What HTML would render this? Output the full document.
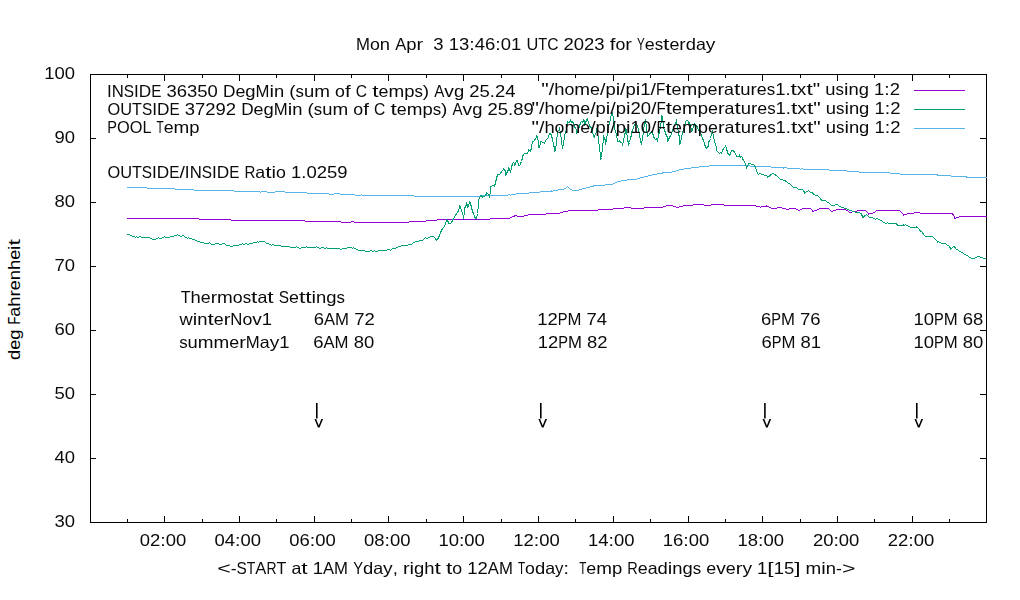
<!DOCTYPE html><html><head><meta charset="utf-8"><style>html,body{margin:0;padding:0;background:#fff;width:1020px;height:600px;overflow:hidden}svg{display:block}</style></head><body><svg width="1020" height="600" viewBox="0 0 1020 600"><defs><filter id="gs" x="-400" y="-400" width="1800" height="1400" filterUnits="userSpaceOnUse"><feColorMatrix type="saturate" values="0"/></filter></defs><rect x="0" y="0" width="1020" height="600" fill="#fff"/><rect x="90.5" y="74.5" width="896" height="448" fill="none" stroke="#000" stroke-width="1"/><rect x="90" y="522" width="6" height="1" fill="#000"/><rect x="980" y="522" width="6" height="1" fill="#000"/><rect x="90" y="458" width="6" height="1" fill="#000"/><rect x="980" y="458" width="6" height="1" fill="#000"/><rect x="90" y="394" width="6" height="1" fill="#000"/><rect x="980" y="394" width="6" height="1" fill="#000"/><rect x="90" y="330" width="6" height="1" fill="#000"/><rect x="980" y="330" width="6" height="1" fill="#000"/><rect x="90" y="266" width="6" height="1" fill="#000"/><rect x="980" y="266" width="6" height="1" fill="#000"/><rect x="90" y="202" width="6" height="1" fill="#000"/><rect x="980" y="202" width="6" height="1" fill="#000"/><rect x="90" y="138" width="6" height="1" fill="#000"/><rect x="980" y="138" width="6" height="1" fill="#000"/><rect x="90" y="74" width="6" height="1" fill="#000"/><rect x="980" y="74" width="6" height="1" fill="#000"/><rect x="127" y="519" width="1" height="3" fill="#000"/><rect x="127" y="75" width="1" height="3" fill="#000"/><rect x="164" y="516" width="1" height="6" fill="#000"/><rect x="164" y="75" width="1" height="6" fill="#000"/><rect x="202" y="519" width="1" height="3" fill="#000"/><rect x="202" y="75" width="1" height="3" fill="#000"/><rect x="239" y="516" width="1" height="6" fill="#000"/><rect x="239" y="75" width="1" height="6" fill="#000"/><rect x="276" y="519" width="1" height="3" fill="#000"/><rect x="276" y="75" width="1" height="3" fill="#000"/><rect x="314" y="516" width="1" height="6" fill="#000"/><rect x="314" y="75" width="1" height="6" fill="#000"/><rect x="351" y="519" width="1" height="3" fill="#000"/><rect x="351" y="75" width="1" height="3" fill="#000"/><rect x="388" y="516" width="1" height="6" fill="#000"/><rect x="388" y="75" width="1" height="6" fill="#000"/><rect x="426" y="519" width="1" height="3" fill="#000"/><rect x="426" y="75" width="1" height="3" fill="#000"/><rect x="463" y="516" width="1" height="6" fill="#000"/><rect x="463" y="75" width="1" height="6" fill="#000"/><rect x="501" y="519" width="1" height="3" fill="#000"/><rect x="501" y="75" width="1" height="3" fill="#000"/><rect x="538" y="516" width="1" height="6" fill="#000"/><rect x="538" y="75" width="1" height="6" fill="#000"/><rect x="575" y="519" width="1" height="3" fill="#000"/><rect x="575" y="75" width="1" height="3" fill="#000"/><rect x="613" y="516" width="1" height="6" fill="#000"/><rect x="613" y="75" width="1" height="6" fill="#000"/><rect x="650" y="519" width="1" height="3" fill="#000"/><rect x="650" y="75" width="1" height="3" fill="#000"/><rect x="688" y="516" width="1" height="6" fill="#000"/><rect x="688" y="75" width="1" height="6" fill="#000"/><rect x="725" y="519" width="1" height="3" fill="#000"/><rect x="725" y="75" width="1" height="3" fill="#000"/><rect x="762" y="516" width="1" height="6" fill="#000"/><rect x="762" y="75" width="1" height="6" fill="#000"/><rect x="800" y="519" width="1" height="3" fill="#000"/><rect x="800" y="75" width="1" height="3" fill="#000"/><rect x="837" y="516" width="1" height="6" fill="#000"/><rect x="837" y="75" width="1" height="6" fill="#000"/><rect x="874" y="519" width="1" height="3" fill="#000"/><rect x="874" y="75" width="1" height="3" fill="#000"/><rect x="912" y="516" width="1" height="6" fill="#000"/><rect x="912" y="75" width="1" height="6" fill="#000"/><rect x="949" y="519" width="1" height="3" fill="#000"/><rect x="949" y="75" width="1" height="3" fill="#000"/><rect x="914" y="90" width="51" height="1" fill="#9400d3"/><rect x="914" y="109" width="51" height="1" fill="#009e73"/><rect x="914" y="128" width="51" height="1" fill="#56b4e9"/><rect x="316.00" y="403" width="1.6" height="15.5" fill="#000"/><polygon points="314.45,419 316.15,419 318.75,425.4 321.35,419 323.05,419 319.55,427.6 317.95,427.6" fill="#000"/><rect x="540.00" y="403" width="1.6" height="15.5" fill="#000"/><polygon points="538.40,419 540.10,419 542.70,425.4 545.30,419 547.00,419 543.50,427.6 541.90,427.6" fill="#000"/><rect x="764.10" y="403" width="1.6" height="15.5" fill="#000"/><polygon points="762.55,419 764.25,419 766.85,425.4 769.45,419 771.15,419 767.65,427.6 766.05,427.6" fill="#000"/><rect x="916.00" y="403" width="1.6" height="15.5" fill="#000"/><polygon points="914.45,419 916.15,419 918.75,425.4 921.35,419 923.05,419 919.55,427.6 917.95,427.6" fill="#000"/><polyline points="126.5,187.5 127.5,187.5 128.5,187.5 129.5,187.5 130.5,187.5 131.5,187.5 132.5,187.5 133.5,187.5 134.5,187.5 135.5,187.5 136.5,187.5 137.5,187.5 138.5,187.5 139.5,187.5 140.5,187.5 141.5,187.5 142.5,187.5 143.5,187.5 144.5,187.5 145.5,187.5 146.5,187.5 147.5,188.5 148.5,188.5 149.5,188.5 150.5,188.5 151.5,188.5 152.5,188.5 153.5,188.5 154.5,188.5 155.5,188.5 156.5,188.5 157.5,188.5 158.5,188.5 159.5,188.5 160.5,188.5 161.5,188.5 162.5,188.5 163.5,188.5 164.5,188.5 165.5,188.5 166.5,188.5 167.5,188.5 168.5,188.5 169.5,188.5 170.5,188.5 171.5,188.5 172.5,188.5 173.5,188.5 174.5,188.5 175.5,189.5 176.5,189.5 177.5,189.5 178.5,189.5 179.5,189.5 180.5,189.5 181.5,189.5 182.5,189.5 183.5,189.5 184.5,189.5 185.5,189.5 186.5,189.5 187.5,189.5 188.5,189.5 189.5,189.5 190.5,189.5 191.5,189.5 192.5,189.5 193.5,189.5 194.5,190.5 195.5,190.5 196.5,190.5 197.5,190.5 198.5,190.5 199.5,190.5 200.5,190.5 201.5,190.5 202.5,190.5 203.5,190.5 204.5,190.5 205.5,190.5 206.5,190.5 207.5,190.5 208.5,190.5 209.5,190.5 210.5,190.5 211.5,190.5 212.5,190.5 213.5,190.5 214.5,190.5 215.5,190.5 216.5,190.5 217.5,190.5 218.5,190.5 219.5,190.5 220.5,190.5 221.5,190.5 222.5,190.5 223.5,190.5 224.5,190.5 225.5,190.5 226.5,190.5 227.5,190.5 228.5,190.5 229.5,190.5 230.5,190.5 231.5,190.5 232.5,190.5 233.5,190.5 234.5,191.5 235.5,191.5 236.5,191.5 237.5,191.5 238.5,191.5 239.5,191.5 240.5,191.5 241.5,191.5 242.5,191.5 243.5,191.5 244.5,191.5 245.5,191.5 246.5,191.5 247.5,191.5 248.5,191.5 249.5,191.5 250.5,191.5 251.5,191.5 252.5,191.5 253.5,191.5 254.5,191.5 255.5,191.5 256.5,191.5 257.5,191.5 258.5,191.5 259.5,191.5 260.5,192.5 261.5,191.5 262.5,191.5 263.5,191.5 264.5,191.5 265.5,191.5 266.5,191.5 267.5,192.5 268.5,192.5 269.5,192.5 270.5,192.5 271.5,192.5 272.5,192.5 273.5,192.5 274.5,192.5 275.5,191.5 276.5,191.5 277.5,191.5 278.5,191.5 279.5,191.5 280.5,191.5 281.5,191.5 282.5,191.5 283.5,191.5 284.5,191.5 285.5,192.5 286.5,192.5 287.5,192.5 288.5,192.5 289.5,192.5 290.5,192.5 291.5,192.5 292.5,192.5 293.5,192.5 294.5,192.5 295.5,192.5 296.5,192.5 297.5,192.5 298.5,192.5 299.5,192.5 300.5,192.5 301.5,192.5 302.5,192.5 303.5,192.5 304.5,192.5 305.5,192.5 306.5,192.5 307.5,193.5 308.5,193.5 309.5,193.5 310.5,193.5 311.5,193.5 312.5,193.5 313.5,193.5 314.5,193.5 315.5,193.5 316.5,193.5 317.5,193.5 318.5,193.5 319.5,193.5 320.5,193.5 321.5,193.5 322.5,193.5 323.5,193.5 324.5,193.5 325.5,193.5 326.5,193.5 327.5,193.5 328.5,193.5 329.5,194.5 330.5,194.5 331.5,194.5 332.5,194.5 333.5,194.5 334.5,193.5 335.5,193.5 336.5,193.5 337.5,193.5 338.5,193.5 339.5,193.5 340.5,194.5 341.5,194.5 342.5,194.5 343.5,194.5 344.5,194.5 345.5,194.5 346.5,194.5 347.5,194.5 348.5,194.5 349.5,194.5 350.5,194.5 351.5,194.5 352.5,194.5 353.5,194.5 354.5,194.5 355.5,195.5 356.5,195.5 357.5,195.5 358.5,195.5 359.5,195.5 360.5,195.5 361.5,194.5 362.5,195.5 363.5,195.5 364.5,195.5 365.5,195.5 366.5,195.5 367.5,195.5 368.5,195.5 369.5,195.5 370.5,195.5 371.5,195.5 372.5,195.5 373.5,195.5 374.5,195.5 375.5,195.5 376.5,195.5 377.5,195.5 378.5,195.5 379.5,195.5 380.5,195.5 381.5,195.5 382.5,195.5 383.5,195.5 384.5,195.5 385.5,195.5 386.5,195.5 387.5,195.5 388.5,195.5 389.5,195.5 390.5,195.5 391.5,195.5 392.5,195.5 393.5,195.5 394.5,195.5 395.5,195.5 396.5,195.5 397.5,195.5 398.5,195.5 399.5,195.5 400.5,195.5 401.5,195.5 402.5,195.5 403.5,195.5 404.5,195.5 405.5,195.5 406.5,195.5 407.5,195.5 408.5,195.5 409.5,195.5 410.5,195.5 411.5,195.5 412.5,195.5 413.5,195.5 414.5,196.5 415.5,196.5 416.5,196.5 417.5,196.5 418.5,196.5 419.5,196.5 420.5,196.5 421.5,196.5 422.5,196.5 423.5,196.5 424.5,196.5 425.5,196.5 426.5,196.5 427.5,196.5 428.5,196.5 429.5,196.5 430.5,196.5 431.5,196.5 432.5,196.5 433.5,196.5 434.5,196.5 435.5,196.5 436.5,196.5 437.5,196.5 438.5,196.5 439.5,196.5 440.5,196.5 441.5,196.5 442.5,196.5 443.5,196.5 444.5,196.5 445.5,196.5 446.5,196.5 447.5,196.5 448.5,196.5 449.5,196.5 450.5,196.5 451.5,196.5 452.5,196.5 453.5,196.5 454.5,196.5 455.5,196.5 456.5,196.5 457.5,196.5 458.5,196.5 459.5,196.5 460.5,196.5 461.5,196.5 462.5,196.5 463.5,196.5 464.5,196.5 465.5,196.5 466.5,196.5 467.5,196.5 468.5,196.5 469.5,196.5 470.5,196.5 471.5,196.5 472.5,196.5 473.5,196.5 474.5,196.5 475.5,196.5 476.5,196.5 477.5,196.5 478.5,196.5 479.5,196.5 480.5,196.5 481.5,196.5 482.5,195.5 483.5,195.5 484.5,195.5 485.5,195.5 486.5,195.5 487.5,195.5 488.5,195.5 489.5,195.5 490.5,195.5 491.5,195.5 492.5,195.5 493.5,195.5 494.5,195.5 495.5,195.5 496.5,195.5 497.5,195.5 498.5,195.5 499.5,195.5 500.5,195.5 501.5,195.5 502.5,195.5 503.5,195.5 504.5,195.5 505.5,195.5 506.5,195.5 507.5,195.5 508.5,194.5 509.5,194.5 510.5,195.5 511.5,194.5 512.5,194.5 513.5,194.5 514.5,194.5 515.5,194.5 516.5,193.5 517.5,193.5 518.5,193.5 519.5,193.5 520.5,193.5 521.5,193.5 522.5,193.5 523.5,193.5 524.5,193.5 525.5,193.5 526.5,193.5 527.5,193.5 528.5,193.5 529.5,192.5 530.5,192.5 531.5,192.5 532.5,192.5 533.5,192.5 534.5,192.5 535.5,192.5 536.5,192.5 537.5,192.5 538.5,192.5 539.5,192.5 540.5,191.5 541.5,191.5 542.5,191.5 543.5,191.5 544.5,191.5 545.5,191.5 546.5,191.5 547.5,191.5 548.5,191.5 549.5,191.5 550.5,191.5 551.5,191.5 551.5,190.5 552.5,191.5 553.5,190.5 554.5,190.5 555.5,190.5 556.5,190.5 557.5,190.5 558.5,189.5 559.5,189.5 560.5,189.5 561.5,189.5 562.5,189.5 563.5,189.5 564.5,188.5 565.5,188.5 566.5,187.5 567.5,186.5 568.5,187.5 569.5,188.5 570.5,189.5 571.5,189.5 572.5,190.5 573.5,190.5 574.5,190.5 575.5,190.5 576.5,190.5 577.5,190.5 578.5,190.5 579.5,189.5 580.5,189.5 581.5,189.5 582.5,188.5 583.5,188.5 584.5,188.5 585.5,188.5 586.5,187.5 587.5,187.5 588.5,187.5 589.5,187.5 590.5,186.5 591.5,186.5 592.5,186.5 593.5,186.5 593.5,185.5 594.5,185.5 595.5,185.5 596.5,185.5 597.5,185.5 598.5,185.5 599.5,185.5 600.5,185.5 601.5,185.5 602.5,185.5 603.5,185.5 604.5,185.5 605.5,184.5 606.5,184.5 607.5,184.5 608.5,184.5 609.5,184.5 610.5,184.5 611.5,184.5 612.5,184.5 613.5,183.5 614.5,183.5 615.5,182.5 616.5,182.5 617.5,181.5 618.5,181.5 619.5,181.5 620.5,181.5 621.5,180.5 622.5,180.5 623.5,180.5 624.5,180.5 625.5,180.5 626.5,180.5 627.5,179.5 628.5,179.5 629.5,179.5 630.5,179.5 631.5,179.5 632.5,179.5 633.5,179.5 634.5,179.5 635.5,179.5 636.5,179.5 637.5,178.5 638.5,178.5 639.5,178.5 640.5,177.5 641.5,177.5 642.5,177.5 643.5,177.5 644.5,176.5 645.5,176.5 646.5,176.5 647.5,176.5 648.5,175.5 649.5,175.5 650.5,175.5 651.5,175.5 652.5,174.5 653.5,174.5 654.5,174.5 655.5,174.5 656.5,174.5 657.5,173.5 658.5,173.5 659.5,173.5 660.5,173.5 661.5,173.5 662.5,172.5 662.5,173.5 663.5,172.5 664.5,172.5 665.5,172.5 666.5,172.5 667.5,172.5 668.5,172.5 669.5,172.5 670.5,172.5 671.5,172.5 672.5,171.5 673.5,171.5 674.5,171.5 675.5,171.5 676.5,170.5 677.5,170.5 678.5,170.5 679.5,169.5 680.5,169.5 681.5,169.5 682.5,169.5 683.5,169.5 684.5,168.5 685.5,168.5 686.5,168.5 687.5,168.5 688.5,168.5 689.5,168.5 690.5,168.5 691.5,167.5 692.5,167.5 693.5,167.5 694.5,167.5 695.5,167.5 696.5,167.5 697.5,167.5 698.5,167.5 699.5,166.5 700.5,166.5 701.5,166.5 702.5,166.5 703.5,166.5 704.5,166.5 705.5,166.5 706.5,166.5 707.5,166.5 708.5,166.5 709.5,165.5 710.5,165.5 711.5,165.5 712.5,165.5 713.5,165.5 714.5,165.5 715.5,165.5 716.5,165.5 717.5,165.5 718.5,165.5 719.5,165.5 720.5,165.5 721.5,165.5 722.5,165.5 723.5,165.5 724.5,165.5 725.5,165.5 726.5,165.5 727.5,165.5 728.5,165.5 729.5,165.5 730.5,165.5 731.5,165.5 732.5,165.5 733.5,165.5 734.5,165.5 735.5,165.5 736.5,165.5 737.5,165.5 738.5,165.5 739.5,165.5 740.5,165.5 741.5,165.5 742.5,165.5 743.5,165.5 744.5,165.5 745.5,165.5 746.5,165.5 747.5,165.5 748.5,165.5 749.5,165.5 750.5,166.5 751.5,166.5 752.5,166.5 753.5,166.5 754.5,166.5 755.5,166.5 756.5,166.5 757.5,166.5 758.5,166.5 759.5,166.5 760.5,166.5 761.5,166.5 762.5,166.5 763.5,166.5 764.5,166.5 765.5,166.5 766.5,166.5 767.5,166.5 768.5,166.5 769.5,166.5 770.5,166.5 771.5,167.5 772.5,167.5 773.5,167.5 774.5,167.5 775.5,167.5 776.5,167.5 777.5,167.5 778.5,167.5 779.5,167.5 780.5,167.5 781.5,167.5 782.5,167.5 783.5,167.5 783.5,168.5 784.5,167.5 785.5,167.5 786.5,167.5 787.5,168.5 788.5,168.5 789.5,168.5 790.5,168.5 791.5,168.5 792.5,168.5 793.5,168.5 794.5,168.5 795.5,168.5 796.5,168.5 797.5,168.5 798.5,168.5 799.5,168.5 800.5,169.5 801.5,168.5 802.5,168.5 803.5,169.5 804.5,169.5 805.5,169.5 806.5,169.5 807.5,169.5 808.5,169.5 809.5,169.5 810.5,169.5 811.5,169.5 812.5,169.5 813.5,169.5 814.5,169.5 815.5,169.5 816.5,169.5 817.5,169.5 818.5,169.5 819.5,169.5 820.5,169.5 821.5,169.5 822.5,169.5 823.5,169.5 824.5,169.5 825.5,169.5 826.5,169.5 827.5,169.5 828.5,169.5 829.5,170.5 830.5,170.5 831.5,170.5 832.5,170.5 833.5,170.5 834.5,170.5 835.5,170.5 836.5,170.5 837.5,170.5 838.5,170.5 839.5,170.5 840.5,170.5 841.5,170.5 842.5,170.5 843.5,170.5 844.5,170.5 845.5,170.5 846.5,170.5 847.5,171.5 848.5,171.5 849.5,171.5 850.5,171.5 851.5,171.5 852.5,171.5 853.5,171.5 854.5,171.5 855.5,171.5 856.5,171.5 857.5,171.5 858.5,171.5 859.5,172.5 860.5,172.5 861.5,172.5 862.5,172.5 863.5,172.5 864.5,172.5 865.5,172.5 866.5,172.5 867.5,172.5 868.5,172.5 869.5,172.5 870.5,172.5 871.5,172.5 872.5,172.5 873.5,172.5 874.5,172.5 875.5,172.5 876.5,172.5 877.5,172.5 878.5,172.5 879.5,172.5 880.5,172.5 881.5,172.5 882.5,172.5 883.5,172.5 884.5,172.5 885.5,172.5 886.5,172.5 887.5,172.5 888.5,172.5 889.5,172.5 890.5,173.5 891.5,173.5 892.5,173.5 893.5,173.5 894.5,173.5 895.5,173.5 896.5,173.5 897.5,173.5 898.5,173.5 899.5,173.5 900.5,174.5 901.5,174.5 902.5,174.5 903.5,174.5 904.5,174.5 905.5,174.5 906.5,174.5 907.5,174.5 908.5,174.5 909.5,174.5 910.5,174.5 911.5,174.5 912.5,174.5 913.5,174.5 914.5,174.5 915.5,174.5 916.5,174.5 917.5,174.5 918.5,174.5 919.5,174.5 920.5,174.5 921.5,174.5 922.5,174.5 923.5,174.5 924.5,174.5 925.5,174.5 926.5,174.5 927.5,174.5 928.5,174.5 929.5,174.5 930.5,174.5 931.5,174.5 932.5,174.5 933.5,174.5 934.5,174.5 935.5,174.5 936.5,174.5 937.5,174.5 937.5,175.5 938.5,175.5 939.5,175.5 940.5,175.5 941.5,175.5 942.5,175.5 943.5,175.5 944.5,175.5 945.5,175.5 946.5,175.5 947.5,175.5 948.5,175.5 949.5,175.5 950.5,175.5 951.5,176.5 952.5,176.5 953.5,176.5 954.5,176.5 955.5,176.5 956.5,176.5 957.5,176.5 958.5,176.5 959.5,176.5 960.5,176.5 961.5,176.5 962.5,176.5 963.5,176.5 964.5,176.5 965.5,176.5 966.5,176.5 966.5,177.5 967.5,177.5 968.5,177.5 969.5,177.5 970.5,177.5 971.5,177.5 972.5,177.5 973.5,177.5 974.5,177.5 975.5,177.5 976.5,177.5 977.5,177.5 978.5,177.5 979.5,177.5 980.5,177.5 981.5,177.5 982.5,177.5 983.5,177.5 984.5,177.5 985.5,177.5 986.5,177.5" fill="none" stroke="#56b4e9" stroke-width="1" stroke-linejoin="miter" shape-rendering="crispEdges"/><polyline points="126.5,218.5 127.5,218.5 128.5,218.5 129.5,218.5 130.5,218.5 131.5,218.5 132.5,218.5 133.5,218.5 134.5,218.5 135.5,218.5 136.5,218.5 137.5,218.5 138.5,218.5 139.5,218.5 140.5,218.5 141.5,218.5 142.5,218.5 143.5,218.5 144.5,218.5 145.5,218.5 146.5,218.5 147.5,218.5 148.5,218.5 149.5,218.5 150.5,218.5 151.5,218.5 152.5,218.5 153.5,218.5 154.5,218.5 155.5,218.5 156.5,218.5 157.5,218.5 158.5,218.5 159.5,218.5 160.5,218.5 161.5,218.5 162.5,218.5 163.5,218.5 164.5,218.5 165.5,218.5 166.5,218.5 167.5,218.5 168.5,218.5 169.5,218.5 170.5,218.5 171.5,218.5 172.5,218.5 173.5,218.5 174.5,218.5 175.5,218.5 176.5,218.5 177.5,218.5 178.5,218.5 179.5,218.5 180.5,218.5 181.5,218.5 182.5,218.5 183.5,218.5 184.5,218.5 185.5,218.5 186.5,218.5 187.5,218.5 188.5,218.5 189.5,218.5 190.5,218.5 191.5,218.5 192.5,218.5 193.5,218.5 194.5,218.5 195.5,218.5 196.5,218.5 197.5,218.5 198.5,218.5 199.5,219.5 200.5,219.5 201.5,219.5 202.5,219.5 203.5,219.5 204.5,219.5 205.5,219.5 206.5,219.5 207.5,219.5 208.5,219.5 209.5,219.5 210.5,219.5 211.5,219.5 212.5,219.5 213.5,219.5 214.5,219.5 215.5,219.5 216.5,219.5 217.5,219.5 218.5,219.5 219.5,219.5 220.5,219.5 221.5,219.5 222.5,219.5 223.5,219.5 224.5,219.5 225.5,219.5 226.5,219.5 227.5,219.5 228.5,219.5 229.5,219.5 230.5,219.5 231.5,220.5 232.5,220.5 233.5,220.5 234.5,220.5 235.5,220.5 236.5,220.5 237.5,220.5 238.5,220.5 239.5,220.5 240.5,220.5 241.5,220.5 242.5,220.5 243.5,220.5 244.5,220.5 245.5,220.5 246.5,220.5 247.5,220.5 248.5,220.5 249.5,220.5 250.5,220.5 251.5,220.5 252.5,220.5 253.5,220.5 254.5,220.5 255.5,220.5 256.5,220.5 257.5,220.5 258.5,220.5 259.5,220.5 260.5,220.5 261.5,220.5 262.5,220.5 263.5,220.5 264.5,220.5 265.5,220.5 266.5,220.5 267.5,220.5 268.5,220.5 269.5,220.5 270.5,220.5 271.5,220.5 272.5,220.5 273.5,220.5 274.5,220.5 275.5,220.5 276.5,220.5 277.5,220.5 278.5,220.5 279.5,220.5 280.5,220.5 281.5,220.5 282.5,220.5 283.5,220.5 284.5,220.5 285.5,220.5 286.5,220.5 287.5,220.5 288.5,220.5 289.5,220.5 290.5,220.5 291.5,220.5 292.5,220.5 293.5,220.5 294.5,220.5 295.5,220.5 296.5,220.5 297.5,220.5 298.5,220.5 299.5,220.5 300.5,220.5 301.5,220.5 302.5,220.5 303.5,220.5 304.5,220.5 305.5,221.5 306.5,221.5 307.5,221.5 308.5,221.5 309.5,221.5 310.5,221.5 311.5,221.5 312.5,221.5 313.5,221.5 314.5,221.5 315.5,221.5 316.5,221.5 317.5,221.5 318.5,221.5 319.5,221.5 320.5,221.5 321.5,221.5 322.5,221.5 323.5,221.5 324.5,221.5 325.5,221.5 326.5,221.5 327.5,221.5 328.5,221.5 329.5,221.5 330.5,221.5 331.5,221.5 332.5,221.5 333.5,221.5 334.5,221.5 335.5,221.5 336.5,221.5 337.5,221.5 338.5,221.5 339.5,221.5 340.5,221.5 341.5,222.5 342.5,222.5 343.5,222.5 344.5,222.5 345.5,222.5 346.5,222.5 347.5,222.5 348.5,222.5 349.5,222.5 350.5,222.5 351.5,221.5 352.5,221.5 353.5,221.5 354.5,222.5 355.5,222.5 356.5,222.5 357.5,222.5 358.5,222.5 359.5,222.5 360.5,222.5 361.5,222.5 362.5,222.5 363.5,222.5 364.5,222.5 365.5,222.5 366.5,222.5 367.5,222.5 368.5,222.5 369.5,222.5 370.5,222.5 371.5,222.5 372.5,222.5 373.5,222.5 374.5,222.5 375.5,222.5 376.5,222.5 377.5,222.5 378.5,222.5 379.5,222.5 380.5,222.5 381.5,222.5 382.5,222.5 383.5,222.5 384.5,222.5 385.5,222.5 386.5,222.5 387.5,222.5 388.5,222.5 389.5,222.5 390.5,222.5 391.5,222.5 392.5,222.5 393.5,222.5 394.5,222.5 395.5,222.5 396.5,222.5 397.5,222.5 398.5,222.5 399.5,222.5 400.5,222.5 401.5,222.5 402.5,222.5 403.5,222.5 404.5,222.5 405.5,222.5 406.5,222.5 407.5,222.5 408.5,222.5 409.5,221.5 410.5,221.5 411.5,221.5 412.5,221.5 413.5,221.5 414.5,221.5 415.5,221.5 416.5,221.5 417.5,221.5 418.5,221.5 419.5,221.5 420.5,221.5 421.5,221.5 422.5,221.5 423.5,221.5 424.5,221.5 425.5,221.5 426.5,220.5 427.5,220.5 428.5,220.5 429.5,220.5 430.5,220.5 431.5,220.5 432.5,220.5 433.5,220.5 434.5,220.5 435.5,220.5 436.5,220.5 437.5,219.5 438.5,219.5 439.5,219.5 440.5,219.5 441.5,219.5 442.5,219.5 443.5,219.5 444.5,219.5 445.5,219.5 446.5,219.5 447.5,219.5 448.5,219.5 449.5,219.5 450.5,219.5 451.5,219.5 452.5,219.5 453.5,219.5 454.5,219.5 455.5,219.5 456.5,219.5 457.5,219.5 458.5,219.5 459.5,219.5 460.5,219.5 461.5,219.5 462.5,219.5 463.5,219.5 464.5,219.5 465.5,219.5 466.5,219.5 467.5,219.5 468.5,219.5 469.5,219.5 470.5,219.5 471.5,219.5 472.5,219.5 473.5,219.5 474.5,219.5 475.5,219.5 476.5,219.5 477.5,219.5 478.5,219.5 479.5,219.5 480.5,219.5 481.5,219.5 482.5,219.5 483.5,219.5 484.5,219.5 485.5,219.5 486.5,219.5 487.5,219.5 488.5,219.5 489.5,219.5 490.5,218.5 491.5,218.5 492.5,218.5 493.5,218.5 494.5,218.5 495.5,218.5 496.5,218.5 497.5,218.5 498.5,218.5 499.5,218.5 500.5,218.5 501.5,218.5 502.5,218.5 503.5,218.5 504.5,218.5 505.5,218.5 506.5,218.5 507.5,218.5 508.5,218.5 509.5,218.5 510.5,217.5 511.5,217.5 512.5,216.5 513.5,216.5 514.5,216.5 514.5,215.5 515.5,215.5 516.5,215.5 517.5,216.5 518.5,216.5 519.5,216.5 520.5,216.5 521.5,216.5 522.5,216.5 523.5,216.5 524.5,215.5 525.5,215.5 526.5,215.5 527.5,215.5 528.5,214.5 529.5,214.5 530.5,214.5 531.5,214.5 532.5,214.5 533.5,214.5 534.5,214.5 535.5,214.5 536.5,214.5 537.5,214.5 538.5,214.5 539.5,214.5 540.5,214.5 541.5,214.5 542.5,214.5 543.5,214.5 544.5,214.5 545.5,214.5 546.5,213.5 547.5,213.5 548.5,213.5 549.5,213.5 550.5,213.5 551.5,213.5 552.5,213.5 553.5,213.5 554.5,213.5 555.5,213.5 556.5,213.5 557.5,213.5 558.5,213.5 559.5,213.5 560.5,212.5 561.5,212.5 562.5,212.5 563.5,211.5 564.5,211.5 565.5,211.5 566.5,211.5 567.5,211.5 568.5,210.5 569.5,210.5 570.5,210.5 571.5,210.5 572.5,210.5 573.5,210.5 574.5,210.5 575.5,210.5 576.5,210.5 577.5,210.5 578.5,210.5 579.5,210.5 580.5,210.5 581.5,210.5 582.5,210.5 583.5,210.5 584.5,210.5 585.5,210.5 586.5,210.5 587.5,210.5 588.5,210.5 589.5,210.5 590.5,210.5 591.5,210.5 592.5,210.5 593.5,210.5 594.5,210.5 595.5,210.5 596.5,210.5 597.5,210.5 598.5,209.5 599.5,209.5 600.5,209.5 601.5,209.5 602.5,209.5 603.5,209.5 604.5,209.5 605.5,209.5 606.5,209.5 607.5,209.5 608.5,209.5 609.5,209.5 610.5,209.5 611.5,209.5 612.5,209.5 613.5,208.5 614.5,208.5 615.5,208.5 616.5,208.5 617.5,208.5 618.5,208.5 619.5,208.5 620.5,208.5 621.5,208.5 622.5,208.5 623.5,208.5 624.5,207.5 625.5,207.5 626.5,207.5 627.5,207.5 628.5,207.5 629.5,207.5 630.5,207.5 631.5,208.5 632.5,208.5 633.5,208.5 634.5,208.5 635.5,208.5 636.5,208.5 637.5,208.5 638.5,208.5 639.5,208.5 640.5,208.5 641.5,208.5 642.5,208.5 643.5,208.5 644.5,207.5 645.5,207.5 646.5,207.5 647.5,207.5 648.5,207.5 649.5,207.5 650.5,207.5 651.5,207.5 652.5,207.5 653.5,207.5 654.5,207.5 655.5,207.5 656.5,207.5 657.5,207.5 658.5,207.5 659.5,207.5 660.5,207.5 661.5,207.5 662.5,207.5 663.5,206.5 664.5,206.5 665.5,206.5 666.5,205.5 667.5,205.5 668.5,205.5 669.5,205.5 670.5,205.5 671.5,205.5 672.5,205.5 673.5,206.5 674.5,206.5 675.5,206.5 676.5,207.5 677.5,207.5 678.5,207.5 679.5,206.5 680.5,206.5 681.5,206.5 682.5,206.5 683.5,205.5 684.5,205.5 685.5,205.5 686.5,205.5 687.5,205.5 688.5,205.5 689.5,205.5 690.5,205.5 691.5,205.5 692.5,205.5 693.5,204.5 694.5,204.5 695.5,204.5 696.5,204.5 697.5,204.5 698.5,204.5 699.5,204.5 700.5,204.5 701.5,204.5 702.5,204.5 703.5,204.5 704.5,205.5 705.5,205.5 706.5,205.5 707.5,205.5 708.5,205.5 709.5,205.5 710.5,205.5 711.5,204.5 712.5,204.5 713.5,204.5 714.5,204.5 715.5,204.5 716.5,204.5 717.5,204.5 718.5,204.5 719.5,204.5 720.5,204.5 721.5,204.5 722.5,204.5 723.5,204.5 724.5,205.5 725.5,205.5 726.5,205.5 727.5,205.5 728.5,205.5 729.5,205.5 730.5,205.5 731.5,205.5 732.5,205.5 733.5,205.5 734.5,205.5 735.5,205.5 736.5,205.5 737.5,205.5 738.5,205.5 739.5,205.5 740.5,205.5 741.5,205.5 742.5,205.5 743.5,205.5 744.5,205.5 745.5,205.5 746.5,205.5 747.5,205.5 748.5,205.5 749.5,205.5 750.5,205.5 751.5,205.5 752.5,205.5 753.5,205.5 754.5,205.5 755.5,205.5 756.5,206.5 757.5,206.5 758.5,206.5 759.5,206.5 760.5,207.5 761.5,206.5 762.5,206.5 763.5,206.5 764.5,206.5 765.5,206.5 766.5,206.5 766.5,205.5 767.5,206.5 768.5,206.5 769.5,207.5 770.5,207.5 771.5,208.5 772.5,208.5 773.5,208.5 774.5,208.5 775.5,208.5 776.5,208.5 777.5,207.5 778.5,207.5 779.5,207.5 780.5,207.5 781.5,207.5 782.5,208.5 783.5,208.5 784.5,208.5 785.5,208.5 786.5,209.5 787.5,209.5 788.5,209.5 789.5,208.5 790.5,208.5 791.5,208.5 792.5,208.5 793.5,208.5 794.5,208.5 795.5,208.5 796.5,209.5 797.5,209.5 798.5,210.5 799.5,210.5 800.5,209.5 801.5,209.5 802.5,208.5 803.5,208.5 804.5,208.5 805.5,208.5 806.5,208.5 807.5,208.5 808.5,208.5 809.5,208.5 810.5,208.5 811.5,209.5 812.5,210.5 812.5,211.5 813.5,211.5 814.5,210.5 815.5,210.5 816.5,210.5 817.5,209.5 818.5,209.5 819.5,208.5 820.5,208.5 821.5,208.5 822.5,208.5 823.5,208.5 824.5,208.5 825.5,208.5 826.5,208.5 827.5,208.5 828.5,208.5 829.5,209.5 830.5,210.5 831.5,211.5 832.5,211.5 833.5,210.5 834.5,210.5 835.5,210.5 836.5,209.5 837.5,209.5 838.5,209.5 839.5,209.5 840.5,209.5 841.5,209.5 842.5,209.5 843.5,209.5 844.5,209.5 845.5,209.5 846.5,210.5 847.5,210.5 848.5,211.5 849.5,212.5 850.5,212.5 851.5,212.5 852.5,211.5 853.5,211.5 854.5,211.5 855.5,211.5 856.5,211.5 857.5,210.5 858.5,210.5 859.5,210.5 860.5,210.5 861.5,210.5 862.5,210.5 863.5,210.5 864.5,210.5 865.5,210.5 866.5,211.5 867.5,212.5 868.5,213.5 868.5,214.5 869.5,213.5 870.5,213.5 871.5,213.5 872.5,213.5 873.5,212.5 874.5,212.5 875.5,211.5 876.5,210.5 877.5,210.5 878.5,210.5 879.5,210.5 880.5,210.5 881.5,210.5 882.5,210.5 883.5,210.5 884.5,210.5 885.5,210.5 886.5,210.5 887.5,210.5 888.5,210.5 889.5,210.5 890.5,210.5 891.5,210.5 892.5,210.5 893.5,210.5 894.5,210.5 895.5,210.5 896.5,210.5 897.5,210.5 898.5,210.5 899.5,210.5 900.5,211.5 901.5,212.5 902.5,213.5 903.5,214.5 903.5,215.5 904.5,214.5 905.5,214.5 906.5,214.5 907.5,213.5 908.5,213.5 909.5,213.5 910.5,213.5 911.5,213.5 912.5,213.5 913.5,213.5 914.5,212.5 915.5,212.5 916.5,212.5 917.5,212.5 918.5,212.5 919.5,212.5 920.5,213.5 921.5,213.5 922.5,213.5 923.5,213.5 924.5,213.5 925.5,213.5 926.5,213.5 927.5,213.5 928.5,213.5 929.5,213.5 930.5,213.5 931.5,213.5 932.5,213.5 933.5,213.5 934.5,213.5 935.5,213.5 936.5,213.5 937.5,213.5 938.5,213.5 939.5,213.5 940.5,213.5 941.5,213.5 942.5,213.5 943.5,213.5 944.5,213.5 945.5,213.5 946.5,213.5 947.5,213.5 948.5,213.5 949.5,213.5 950.5,213.5 951.5,213.5 952.5,213.5 953.5,215.5 954.5,216.5 954.5,218.5 955.5,218.5 956.5,217.5 957.5,217.5 958.5,217.5 959.5,216.5 960.5,216.5 961.5,216.5 962.5,216.5 963.5,216.5 964.5,216.5 965.5,216.5 966.5,216.5 967.5,216.5 968.5,216.5 969.5,216.5 970.5,216.5 971.5,216.5 972.5,216.5 973.5,216.5 974.5,216.5 975.5,216.5 976.5,216.5 977.5,216.5 978.5,216.5 979.5,216.5 980.5,216.5 981.5,216.5 982.5,216.5 983.5,216.5 984.5,216.5 985.5,216.5 986.5,216.5" fill="none" stroke="#9400d3" stroke-width="1" stroke-linejoin="miter" shape-rendering="crispEdges"/><polyline points="126.5,234.5 127.5,234.5 128.5,234.5 129.5,234.5 130.5,235.5 131.5,235.5 132.5,236.5 133.5,236.5 134.5,236.5 135.5,237.5 136.5,236.5 137.5,237.5 138.5,237.5 139.5,236.5 140.5,236.5 141.5,237.5 142.5,237.5 143.5,237.5 144.5,237.5 145.5,237.5 146.5,237.5 147.5,237.5 148.5,237.5 149.5,237.5 150.5,238.5 151.5,238.5 152.5,239.5 153.5,239.5 154.5,239.5 155.5,239.5 156.5,238.5 157.5,238.5 158.5,237.5 159.5,238.5 160.5,238.5 161.5,238.5 162.5,237.5 163.5,237.5 164.5,236.5 165.5,237.5 166.5,237.5 167.5,237.5 168.5,237.5 169.5,237.5 170.5,236.5 171.5,236.5 172.5,236.5 173.5,236.5 174.5,235.5 175.5,235.5 176.5,235.5 177.5,234.5 178.5,235.5 179.5,235.5 180.5,236.5 181.5,236.5 182.5,235.5 183.5,235.5 184.5,236.5 185.5,237.5 186.5,237.5 187.5,238.5 188.5,237.5 189.5,238.5 190.5,238.5 191.5,238.5 192.5,239.5 193.5,239.5 194.5,239.5 195.5,240.5 196.5,240.5 197.5,241.5 198.5,241.5 199.5,241.5 200.5,242.5 201.5,242.5 202.5,242.5 203.5,242.5 204.5,243.5 205.5,243.5 206.5,243.5 207.5,243.5 208.5,243.5 209.5,242.5 210.5,243.5 211.5,244.5 212.5,244.5 213.5,244.5 214.5,244.5 215.5,243.5 216.5,243.5 217.5,243.5 218.5,243.5 219.5,244.5 220.5,244.5 221.5,244.5 222.5,243.5 223.5,243.5 224.5,243.5 225.5,244.5 226.5,245.5 227.5,245.5 228.5,245.5 229.5,245.5 230.5,246.5 231.5,246.5 232.5,246.5 233.5,245.5 234.5,245.5 235.5,245.5 236.5,245.5 237.5,245.5 238.5,245.5 239.5,244.5 240.5,244.5 241.5,244.5 242.5,243.5 243.5,244.5 244.5,244.5 245.5,243.5 246.5,243.5 247.5,244.5 248.5,244.5 249.5,243.5 250.5,243.5 251.5,243.5 252.5,243.5 253.5,242.5 254.5,242.5 255.5,242.5 256.5,242.5 257.5,241.5 258.5,242.5 259.5,241.5 260.5,241.5 261.5,241.5 262.5,241.5 263.5,241.5 264.5,241.5 265.5,242.5 266.5,243.5 267.5,243.5 268.5,243.5 269.5,244.5 270.5,244.5 271.5,245.5 272.5,244.5 273.5,244.5 274.5,245.5 275.5,245.5 276.5,245.5 277.5,245.5 278.5,245.5 279.5,245.5 280.5,245.5 281.5,246.5 282.5,246.5 283.5,246.5 284.5,246.5 285.5,246.5 286.5,246.5 287.5,246.5 288.5,246.5 289.5,246.5 290.5,247.5 291.5,247.5 292.5,247.5 293.5,247.5 294.5,247.5 295.5,247.5 296.5,246.5 297.5,247.5 298.5,247.5 299.5,248.5 300.5,248.5 301.5,247.5 302.5,247.5 303.5,247.5 304.5,247.5 305.5,247.5 306.5,246.5 307.5,247.5 308.5,247.5 309.5,247.5 310.5,247.5 311.5,247.5 312.5,247.5 313.5,247.5 314.5,247.5 315.5,247.5 316.5,246.5 317.5,247.5 318.5,247.5 319.5,248.5 320.5,248.5 321.5,247.5 322.5,247.5 323.5,247.5 324.5,248.5 325.5,248.5 326.5,247.5 327.5,248.5 328.5,248.5 329.5,248.5 330.5,248.5 331.5,248.5 332.5,248.5 333.5,248.5 334.5,248.5 335.5,248.5 336.5,248.5 337.5,248.5 338.5,248.5 339.5,248.5 340.5,249.5 341.5,249.5 342.5,248.5 343.5,248.5 344.5,248.5 345.5,248.5 346.5,248.5 347.5,247.5 348.5,247.5 349.5,247.5 350.5,247.5 351.5,247.5 352.5,248.5 353.5,247.5 354.5,248.5 355.5,248.5 356.5,249.5 357.5,249.5 358.5,250.5 359.5,250.5 360.5,250.5 361.5,250.5 362.5,250.5 363.5,250.5 364.5,250.5 365.5,251.5 366.5,251.5 367.5,251.5 368.5,251.5 369.5,251.5 370.5,250.5 371.5,250.5 372.5,251.5 373.5,251.5 374.5,250.5 375.5,251.5 376.5,251.5 377.5,251.5 378.5,250.5 379.5,250.5 380.5,250.5 381.5,250.5 382.5,250.5 383.5,250.5 384.5,250.5 385.5,250.5 386.5,250.5 387.5,249.5 388.5,249.5 389.5,249.5 390.5,250.5 391.5,249.5 392.5,248.5 393.5,248.5 394.5,248.5 395.5,248.5 396.5,247.5 397.5,247.5 398.5,246.5 399.5,246.5 400.5,246.5 401.5,245.5 402.5,245.5 403.5,245.5 404.5,245.5 405.5,245.5 406.5,245.5 407.5,245.5 408.5,244.5 409.5,244.5 410.5,244.5 411.5,244.5 412.5,243.5 413.5,242.5 414.5,242.5 415.5,241.5 416.5,241.5 417.5,241.5 418.5,241.5 419.5,240.5 420.5,240.5 421.5,240.5 422.5,240.5 423.5,239.5 424.5,238.5 425.5,237.5 426.5,238.5 427.5,238.5 428.5,237.5 429.5,237.5 430.5,236.5 431.5,236.5 432.5,236.5 433.5,236.5 434.5,237.5 435.5,238.5 436.5,240.5 437.5,239.5 438.5,237.5 439.5,235.5 440.5,232.5 441.5,230.5 442.5,228.5 443.5,227.5 444.5,226.5 445.5,223.5 446.5,220.5 446.5,219.5 447.5,220.5 448.5,222.5 448.5,223.5 449.5,223.5 450.5,223.5 451.5,222.5 452.5,220.5 453.5,218.5 454.5,217.5 454.5,216.5 455.5,215.5 456.5,213.5 457.5,212.5 458.5,210.5 459.5,207.5 459.5,205.5 460.5,207.5 461.5,210.5 462.5,213.5 463.5,216.5 463.5,218.5 464.5,212.5 464.5,208.5 465.5,206.5 466.5,204.5 466.5,202.5 467.5,205.5 467.5,207.5 468.5,205.5 469.5,202.5 469.5,201.5 470.5,203.5 471.5,207.5 472.5,211.5 473.5,213.5 474.5,216.5 475.5,218.5 476.5,217.5 476.5,218.5 477.5,213.5 478.5,204.5 478.5,199.5 479.5,198.5 480.5,195.5 481.5,195.5 482.5,197.5 483.5,196.5 484.5,196.5 485.5,195.5 486.5,193.5 486.5,192.5 487.5,193.5 488.5,194.5 489.5,196.5 490.5,191.5 490.5,186.5 491.5,186.5 492.5,185.5 493.5,185.5 494.5,185.5 494.5,186.5 495.5,182.5 496.5,178.5 497.5,174.5 498.5,174.5 499.5,174.5 500.5,173.5 501.5,171.5 502.5,170.5 503.5,169.5 503.5,168.5 504.5,169.5 505.5,171.5 505.5,175.5 506.5,173.5 507.5,171.5 508.5,169.5 508.5,167.5 509.5,168.5 510.5,172.5 511.5,167.5 512.5,163.5 513.5,162.5 514.5,163.5 514.5,165.5 515.5,163.5 516.5,160.5 517.5,160.5 518.5,165.5 519.5,165.5 520.5,164.5 520.5,163.5 521.5,161.5 522.5,157.5 522.5,156.5 523.5,154.5 524.5,153.5 525.5,153.5 526.5,153.5 527.5,153.5 527.5,152.5 528.5,151.5 528.5,149.5 529.5,150.5 530.5,151.5 531.5,147.5 532.5,141.5 533.5,141.5 534.5,140.5 535.5,138.5 535.5,139.5 536.5,136.5 536.5,135.5 537.5,136.5 538.5,143.5 538.5,147.5 539.5,147.5 540.5,143.5 540.5,141.5 541.5,141.5 542.5,142.5 543.5,142.5 544.5,142.5 544.5,143.5 545.5,140.5 546.5,139.5 547.5,138.5 548.5,137.5 549.5,133.5 550.5,133.5 551.5,135.5 552.5,139.5 553.5,143.5 554.5,149.5 554.5,151.5 555.5,150.5 556.5,142.5 557.5,132.5 557.5,131.5 558.5,130.5 559.5,129.5 559.5,127.5 560.5,133.5 561.5,140.5 562.5,148.5 563.5,143.5 564.5,137.5 564.5,135.5 565.5,132.5 566.5,129.5 567.5,123.5 567.5,121.5 568.5,122.5 569.5,122.5 570.5,120.5 571.5,122.5 572.5,122.5 572.5,121.5 573.5,123.5 574.5,126.5 575.5,128.5 576.5,129.5 576.5,133.5 577.5,131.5 578.5,130.5 579.5,125.5 579.5,126.5 580.5,122.5 581.5,121.5 582.5,122.5 583.5,120.5 583.5,119.5 584.5,120.5 584.5,125.5 585.5,122.5 586.5,120.5 587.5,118.5 587.5,119.5 588.5,122.5 589.5,125.5 590.5,127.5 591.5,127.5 592.5,131.5 593.5,136.5 594.5,137.5 595.5,133.5 596.5,132.5 596.5,128.5 597.5,131.5 598.5,139.5 599.5,147.5 600.5,155.5 600.5,159.5 601.5,157.5 602.5,147.5 603.5,138.5 603.5,135.5 604.5,138.5 605.5,140.5 605.5,144.5 606.5,139.5 607.5,133.5 607.5,128.5 608.5,127.5 609.5,123.5 610.5,118.5 611.5,113.5 612.5,112.5 613.5,119.5 614.5,128.5 615.5,131.5 616.5,134.5 617.5,141.5 618.5,141.5 619.5,141.5 619.5,140.5 620.5,142.5 621.5,142.5 622.5,143.5 622.5,145.5 623.5,140.5 624.5,135.5 625.5,131.5 625.5,128.5 626.5,130.5 627.5,138.5 628.5,144.5 628.5,145.5 629.5,142.5 630.5,138.5 631.5,134.5 631.5,132.5 632.5,130.5 633.5,127.5 634.5,124.5 635.5,124.5 636.5,124.5 637.5,125.5 637.5,127.5 638.5,128.5 639.5,135.5 640.5,140.5 641.5,144.5 642.5,138.5 643.5,131.5 644.5,123.5 645.5,119.5 646.5,128.5 647.5,136.5 648.5,135.5 649.5,134.5 650.5,132.5 651.5,131.5 652.5,133.5 653.5,135.5 653.5,136.5 654.5,138.5 655.5,139.5 656.5,138.5 657.5,141.5 658.5,135.5 659.5,131.5 660.5,126.5 661.5,120.5 661.5,115.5 662.5,117.5 663.5,123.5 663.5,128.5 664.5,129.5 665.5,133.5 666.5,135.5 667.5,137.5 667.5,141.5 668.5,139.5 669.5,137.5 670.5,135.5 671.5,134.5 671.5,132.5 672.5,131.5 673.5,127.5 674.5,124.5 675.5,123.5 676.5,121.5 676.5,119.5 677.5,127.5 678.5,132.5 679.5,138.5 679.5,144.5 680.5,143.5 681.5,137.5 682.5,132.5 682.5,131.5 683.5,130.5 684.5,126.5 685.5,122.5 685.5,121.5 686.5,120.5 687.5,120.5 688.5,121.5 688.5,123.5 689.5,122.5 690.5,126.5 691.5,129.5 691.5,131.5 692.5,129.5 693.5,126.5 694.5,123.5 694.5,124.5 695.5,124.5 696.5,125.5 697.5,127.5 698.5,130.5 698.5,129.5 699.5,130.5 700.5,132.5 701.5,135.5 702.5,138.5 703.5,140.5 704.5,143.5 704.5,144.5 705.5,146.5 706.5,148.5 707.5,147.5 708.5,145.5 708.5,141.5 709.5,141.5 710.5,138.5 711.5,134.5 712.5,131.5 713.5,136.5 714.5,141.5 715.5,144.5 716.5,147.5 716.5,150.5 717.5,151.5 718.5,152.5 719.5,153.5 720.5,152.5 721.5,152.5 721.5,153.5 722.5,150.5 723.5,148.5 724.5,147.5 725.5,146.5 725.5,145.5 726.5,148.5 727.5,152.5 728.5,154.5 729.5,155.5 730.5,153.5 731.5,150.5 732.5,150.5 733.5,150.5 734.5,152.5 735.5,153.5 736.5,156.5 737.5,156.5 738.5,156.5 739.5,156.5 739.5,154.5 740.5,157.5 741.5,156.5 742.5,157.5 742.5,158.5 743.5,160.5 744.5,161.5 745.5,164.5 746.5,167.5 747.5,165.5 748.5,164.5 748.5,163.5 749.5,163.5 750.5,163.5 751.5,164.5 752.5,164.5 753.5,164.5 754.5,165.5 755.5,167.5 756.5,170.5 757.5,173.5 758.5,174.5 759.5,173.5 760.5,173.5 761.5,174.5 762.5,174.5 763.5,174.5 764.5,175.5 765.5,175.5 766.5,175.5 767.5,176.5 767.5,177.5 768.5,176.5 769.5,176.5 770.5,174.5 771.5,174.5 772.5,173.5 773.5,173.5 774.5,174.5 775.5,174.5 775.5,175.5 776.5,175.5 777.5,176.5 778.5,177.5 779.5,178.5 780.5,179.5 781.5,179.5 782.5,179.5 783.5,180.5 784.5,180.5 785.5,180.5 785.5,181.5 786.5,181.5 787.5,182.5 788.5,183.5 789.5,183.5 790.5,184.5 791.5,185.5 792.5,186.5 793.5,187.5 794.5,187.5 795.5,187.5 796.5,187.5 797.5,188.5 798.5,189.5 799.5,189.5 800.5,189.5 801.5,189.5 802.5,189.5 803.5,190.5 804.5,192.5 804.5,193.5 805.5,192.5 806.5,191.5 807.5,191.5 808.5,190.5 809.5,191.5 810.5,192.5 811.5,192.5 812.5,192.5 813.5,194.5 814.5,194.5 815.5,195.5 816.5,195.5 817.5,195.5 818.5,196.5 819.5,197.5 820.5,198.5 821.5,200.5 822.5,200.5 823.5,200.5 824.5,200.5 825.5,200.5 826.5,201.5 827.5,202.5 828.5,202.5 829.5,203.5 830.5,204.5 831.5,205.5 832.5,205.5 833.5,205.5 834.5,205.5 835.5,204.5 836.5,204.5 837.5,204.5 838.5,205.5 839.5,206.5 840.5,206.5 841.5,207.5 842.5,207.5 843.5,207.5 844.5,208.5 845.5,208.5 846.5,208.5 847.5,209.5 848.5,209.5 849.5,210.5 850.5,210.5 851.5,210.5 852.5,211.5 853.5,211.5 854.5,211.5 855.5,212.5 856.5,212.5 857.5,212.5 858.5,212.5 859.5,212.5 860.5,213.5 861.5,213.5 862.5,217.5 863.5,217.5 864.5,215.5 865.5,215.5 866.5,214.5 867.5,215.5 868.5,216.5 869.5,217.5 870.5,217.5 871.5,217.5 872.5,217.5 873.5,218.5 874.5,218.5 875.5,219.5 876.5,218.5 877.5,218.5 878.5,219.5 879.5,219.5 880.5,220.5 881.5,220.5 882.5,221.5 883.5,222.5 884.5,222.5 885.5,223.5 886.5,223.5 887.5,222.5 888.5,223.5 889.5,223.5 890.5,223.5 891.5,223.5 892.5,223.5 893.5,223.5 894.5,223.5 895.5,223.5 896.5,223.5 897.5,225.5 898.5,225.5 899.5,225.5 900.5,225.5 901.5,225.5 902.5,225.5 903.5,225.5 903.5,224.5 904.5,225.5 905.5,224.5 906.5,225.5 907.5,225.5 908.5,226.5 909.5,226.5 910.5,227.5 911.5,227.5 912.5,227.5 913.5,227.5 914.5,227.5 915.5,227.5 916.5,227.5 916.5,226.5 917.5,227.5 918.5,228.5 919.5,229.5 920.5,231.5 921.5,231.5 922.5,232.5 923.5,234.5 924.5,235.5 925.5,236.5 926.5,236.5 927.5,236.5 928.5,236.5 929.5,236.5 930.5,236.5 931.5,236.5 932.5,236.5 933.5,237.5 934.5,238.5 935.5,239.5 936.5,240.5 937.5,241.5 937.5,242.5 938.5,241.5 939.5,242.5 940.5,242.5 941.5,243.5 942.5,243.5 943.5,243.5 944.5,243.5 945.5,243.5 946.5,244.5 947.5,245.5 948.5,245.5 949.5,246.5 950.5,248.5 950.5,249.5 951.5,248.5 952.5,247.5 953.5,246.5 954.5,246.5 955.5,248.5 956.5,249.5 957.5,249.5 958.5,250.5 959.5,251.5 960.5,251.5 961.5,252.5 962.5,252.5 963.5,253.5 964.5,254.5 965.5,254.5 966.5,255.5 967.5,255.5 968.5,256.5 969.5,257.5 970.5,257.5 971.5,258.5 972.5,258.5 973.5,258.5 974.5,258.5 975.5,257.5 976.5,257.5 977.5,256.5 978.5,256.5 979.5,256.5 980.5,257.5 981.5,257.5 982.5,257.5 983.5,258.5 984.5,258.5 985.5,258.5 986.5,259.5" fill="none" stroke="#009e73" stroke-width="1" stroke-linejoin="miter" shape-rendering="crispEdges"/><g filter="url(#gs)" font-family="Liberation Sans, sans-serif" font-size="16.50" fill="#0a0a0a"><text x="356.05" y="50" textLength="13.94" lengthAdjust="spacingAndGlyphs">M</text><text x="369.97" y="50" textLength="9.89" lengthAdjust="spacingAndGlyphs">o</text><text x="379.85" y="50" textLength="10.23" lengthAdjust="spacingAndGlyphs">n</text><text x="395.21" y="50" textLength="11.05" lengthAdjust="spacingAndGlyphs">A</text><text x="406.24" y="50" textLength="10.27" lengthAdjust="spacingAndGlyphs">p</text><text x="416.49" y="50" textLength="6.66" lengthAdjust="spacingAndGlyphs">r</text><text x="433.39" y="50" textLength="10.28" lengthAdjust="spacingAndGlyphs">3</text><text x="448.78" y="50" textLength="10.28" lengthAdjust="spacingAndGlyphs">1</text><text x="459.05" y="50" textLength="10.30" lengthAdjust="spacingAndGlyphs">3</text><text x="469.33" y="50" textLength="5.45" lengthAdjust="spacingAndGlyphs">:</text><text x="474.77" y="50" textLength="10.28" lengthAdjust="spacingAndGlyphs">4</text><text x="485.03" y="50" textLength="10.28" lengthAdjust="spacingAndGlyphs">6</text><text x="495.30" y="50" textLength="5.45" lengthAdjust="spacingAndGlyphs">:</text><text x="500.74" y="50" textLength="10.28" lengthAdjust="spacingAndGlyphs">0</text><text x="511.00" y="50" textLength="10.30" lengthAdjust="spacingAndGlyphs">1</text><text x="526.41" y="50" textLength="11.83" lengthAdjust="spacingAndGlyphs">U</text><text x="538.22" y="50" textLength="8.94" lengthAdjust="spacingAndGlyphs">T</text><text x="547.14" y="50" textLength="11.28" lengthAdjust="spacingAndGlyphs">C</text><text x="563.53" y="50" textLength="10.28" lengthAdjust="spacingAndGlyphs">2</text><text x="573.80" y="50" textLength="10.30" lengthAdjust="spacingAndGlyphs">0</text><text x="584.08" y="50" textLength="10.28" lengthAdjust="spacingAndGlyphs">2</text><text x="594.35" y="50" textLength="10.28" lengthAdjust="spacingAndGlyphs">3</text><text x="609.74" y="50" textLength="5.70" lengthAdjust="spacingAndGlyphs">f</text><text x="615.42" y="50" textLength="9.89" lengthAdjust="spacingAndGlyphs">o</text><text x="625.30" y="50" textLength="6.66" lengthAdjust="spacingAndGlyphs">r</text><text x="637.07" y="50" textLength="7.73" lengthAdjust="spacingAndGlyphs">Y</text><text x="644.78" y="50" textLength="9.94" lengthAdjust="spacingAndGlyphs">e</text><text x="654.71" y="50" textLength="8.44" lengthAdjust="spacingAndGlyphs">s</text><text x="663.13" y="50" textLength="6.34" lengthAdjust="spacingAndGlyphs">t</text><text x="669.46" y="50" textLength="9.94" lengthAdjust="spacingAndGlyphs">e</text><text x="679.38" y="50" textLength="6.38" lengthAdjust="spacingAndGlyphs">r</text><text x="685.74" y="50" textLength="10.25" lengthAdjust="spacingAndGlyphs">d</text><text x="695.97" y="50" textLength="9.91" lengthAdjust="spacingAndGlyphs">a</text><text x="705.86" y="50" textLength="9.58" lengthAdjust="spacingAndGlyphs">y</text><text x="44.20" y="79" textLength="10.28" lengthAdjust="spacingAndGlyphs">1</text><text x="54.47" y="79" textLength="10.28" lengthAdjust="spacingAndGlyphs">0</text><text x="64.73" y="79" textLength="10.28" lengthAdjust="spacingAndGlyphs">0</text><text x="54.55" y="143" textLength="10.28" lengthAdjust="spacingAndGlyphs">9</text><text x="64.82" y="143" textLength="10.28" lengthAdjust="spacingAndGlyphs">0</text><text x="54.55" y="207" textLength="10.28" lengthAdjust="spacingAndGlyphs">8</text><text x="64.82" y="207" textLength="10.28" lengthAdjust="spacingAndGlyphs">0</text><text x="54.55" y="271" textLength="10.28" lengthAdjust="spacingAndGlyphs">7</text><text x="64.82" y="271" textLength="10.28" lengthAdjust="spacingAndGlyphs">0</text><text x="54.55" y="335" textLength="10.28" lengthAdjust="spacingAndGlyphs">6</text><text x="64.82" y="335" textLength="10.28" lengthAdjust="spacingAndGlyphs">0</text><text x="54.55" y="399" textLength="10.28" lengthAdjust="spacingAndGlyphs">5</text><text x="64.82" y="399" textLength="10.28" lengthAdjust="spacingAndGlyphs">0</text><text x="54.55" y="463" textLength="10.28" lengthAdjust="spacingAndGlyphs">4</text><text x="64.82" y="463" textLength="10.28" lengthAdjust="spacingAndGlyphs">0</text><text x="54.55" y="527" textLength="10.28" lengthAdjust="spacingAndGlyphs">3</text><text x="64.82" y="527" textLength="10.28" lengthAdjust="spacingAndGlyphs">0</text><text x="217.15" y="574" textLength="13.53" lengthAdjust="spacingAndGlyphs">&lt;</text><text x="230.67" y="574" textLength="5.84" lengthAdjust="spacingAndGlyphs">-</text><text x="236.49" y="574" textLength="10.27" lengthAdjust="spacingAndGlyphs">S</text><text x="246.74" y="574" textLength="8.61" lengthAdjust="spacingAndGlyphs">T</text><text x="255.34" y="574" textLength="11.06" lengthAdjust="spacingAndGlyphs">A</text><text x="266.38" y="574" textLength="10.05" lengthAdjust="spacingAndGlyphs">R</text><text x="276.42" y="574" textLength="9.88" lengthAdjust="spacingAndGlyphs">T</text><text x="291.42" y="574" textLength="9.91" lengthAdjust="spacingAndGlyphs">a</text><text x="301.31" y="574" textLength="6.34" lengthAdjust="spacingAndGlyphs">t</text><text x="312.76" y="574" textLength="10.28" lengthAdjust="spacingAndGlyphs">1</text><text x="323.02" y="574" textLength="11.06" lengthAdjust="spacingAndGlyphs">A</text><text x="334.07" y="574" textLength="13.94" lengthAdjust="spacingAndGlyphs">M</text><text x="353.13" y="574" textLength="9.88" lengthAdjust="spacingAndGlyphs">Y</text><text x="362.99" y="574" textLength="10.25" lengthAdjust="spacingAndGlyphs">d</text><text x="373.23" y="574" textLength="9.91" lengthAdjust="spacingAndGlyphs">a</text><text x="383.12" y="574" textLength="9.58" lengthAdjust="spacingAndGlyphs">y</text><text x="392.68" y="574" textLength="5.14" lengthAdjust="spacingAndGlyphs">,</text><text x="402.95" y="574" textLength="6.64" lengthAdjust="spacingAndGlyphs">r</text><text x="409.57" y="574" textLength="4.50" lengthAdjust="spacingAndGlyphs">i</text><text x="414.06" y="574" textLength="10.27" lengthAdjust="spacingAndGlyphs">g</text><text x="424.31" y="574" textLength="10.25" lengthAdjust="spacingAndGlyphs">h</text><text x="434.54" y="574" textLength="6.34" lengthAdjust="spacingAndGlyphs">t</text><text x="445.99" y="574" textLength="6.34" lengthAdjust="spacingAndGlyphs">t</text><text x="452.32" y="574" textLength="9.89" lengthAdjust="spacingAndGlyphs">o</text><text x="467.32" y="574" textLength="10.30" lengthAdjust="spacingAndGlyphs">1</text><text x="477.60" y="574" textLength="10.28" lengthAdjust="spacingAndGlyphs">2</text><text x="487.87" y="574" textLength="11.06" lengthAdjust="spacingAndGlyphs">A</text><text x="498.92" y="574" textLength="13.94" lengthAdjust="spacingAndGlyphs">M</text><text x="517.96" y="574" textLength="7.14" lengthAdjust="spacingAndGlyphs">T</text><text x="525.09" y="574" textLength="9.89" lengthAdjust="spacingAndGlyphs">o</text><text x="534.96" y="574" textLength="10.25" lengthAdjust="spacingAndGlyphs">d</text><text x="545.20" y="574" textLength="9.91" lengthAdjust="spacingAndGlyphs">a</text><text x="555.09" y="574" textLength="8.39" lengthAdjust="spacingAndGlyphs">y</text><text x="563.46" y="574" textLength="5.45" lengthAdjust="spacingAndGlyphs">:</text><text x="579.17" y="574" textLength="7.14" lengthAdjust="spacingAndGlyphs">T</text><text x="586.29" y="574" textLength="9.94" lengthAdjust="spacingAndGlyphs">e</text><text x="596.21" y="574" textLength="15.73" lengthAdjust="spacingAndGlyphs">m</text><text x="611.93" y="574" textLength="10.27" lengthAdjust="spacingAndGlyphs">p</text><text x="627.31" y="574" textLength="10.52" lengthAdjust="spacingAndGlyphs">R</text><text x="637.81" y="574" textLength="9.94" lengthAdjust="spacingAndGlyphs">e</text><text x="647.73" y="574" textLength="9.91" lengthAdjust="spacingAndGlyphs">a</text><text x="657.62" y="574" textLength="10.27" lengthAdjust="spacingAndGlyphs">d</text><text x="667.87" y="574" textLength="4.50" lengthAdjust="spacingAndGlyphs">i</text><text x="672.35" y="574" textLength="10.25" lengthAdjust="spacingAndGlyphs">n</text><text x="682.59" y="574" textLength="10.25" lengthAdjust="spacingAndGlyphs">g</text><text x="692.82" y="574" textLength="8.44" lengthAdjust="spacingAndGlyphs">s</text><text x="706.37" y="574" textLength="9.94" lengthAdjust="spacingAndGlyphs">e</text><text x="716.29" y="574" textLength="9.58" lengthAdjust="spacingAndGlyphs">v</text><text x="725.85" y="574" textLength="9.94" lengthAdjust="spacingAndGlyphs">e</text><text x="735.77" y="574" textLength="6.66" lengthAdjust="spacingAndGlyphs">r</text><text x="742.42" y="574" textLength="9.56" lengthAdjust="spacingAndGlyphs">y</text><text x="757.10" y="574" textLength="10.28" lengthAdjust="spacingAndGlyphs">1</text><text x="767.37" y="574" textLength="6.31" lengthAdjust="spacingAndGlyphs">[</text><text x="773.67" y="574" textLength="10.28" lengthAdjust="spacingAndGlyphs">1</text><text x="783.93" y="574" textLength="10.28" lengthAdjust="spacingAndGlyphs">5</text><text x="794.20" y="574" textLength="6.31" lengthAdjust="spacingAndGlyphs">]</text><text x="805.63" y="574" textLength="15.73" lengthAdjust="spacingAndGlyphs">m</text><text x="821.35" y="574" textLength="4.50" lengthAdjust="spacingAndGlyphs">i</text><text x="825.84" y="574" textLength="10.25" lengthAdjust="spacingAndGlyphs">n</text><text x="836.07" y="574" textLength="5.84" lengthAdjust="spacingAndGlyphs">-</text><text x="841.90" y="574" textLength="13.53" lengthAdjust="spacingAndGlyphs">&gt;</text><text x="106.90" y="97" textLength="4.77" lengthAdjust="spacingAndGlyphs">I</text><text x="111.65" y="97" textLength="12.09" lengthAdjust="spacingAndGlyphs">N</text><text x="123.73" y="97" textLength="10.27" lengthAdjust="spacingAndGlyphs">S</text><text x="133.98" y="97" textLength="4.77" lengthAdjust="spacingAndGlyphs">I</text><text x="138.73" y="97" textLength="12.45" lengthAdjust="spacingAndGlyphs">D</text><text x="151.17" y="97" textLength="10.20" lengthAdjust="spacingAndGlyphs">E</text><text x="166.49" y="97" textLength="10.28" lengthAdjust="spacingAndGlyphs">3</text><text x="176.76" y="97" textLength="10.28" lengthAdjust="spacingAndGlyphs">6</text><text x="187.02" y="97" textLength="10.28" lengthAdjust="spacingAndGlyphs">3</text><text x="197.29" y="97" textLength="10.30" lengthAdjust="spacingAndGlyphs">5</text><text x="207.57" y="97" textLength="10.28" lengthAdjust="spacingAndGlyphs">0</text><text x="222.96" y="97" textLength="12.45" lengthAdjust="spacingAndGlyphs">D</text><text x="235.40" y="97" textLength="9.94" lengthAdjust="spacingAndGlyphs">e</text><text x="245.32" y="97" textLength="10.27" lengthAdjust="spacingAndGlyphs">g</text><text x="255.57" y="97" textLength="13.94" lengthAdjust="spacingAndGlyphs">M</text><text x="269.49" y="97" textLength="4.50" lengthAdjust="spacingAndGlyphs">i</text><text x="273.98" y="97" textLength="10.25" lengthAdjust="spacingAndGlyphs">n</text><text x="289.34" y="97" textLength="6.31" lengthAdjust="spacingAndGlyphs">(</text><text x="295.63" y="97" textLength="8.42" lengthAdjust="spacingAndGlyphs">s</text><text x="304.04" y="97" textLength="10.25" lengthAdjust="spacingAndGlyphs">u</text><text x="314.27" y="97" textLength="15.73" lengthAdjust="spacingAndGlyphs">m</text><text x="335.13" y="97" textLength="9.89" lengthAdjust="spacingAndGlyphs">o</text><text x="345.01" y="97" textLength="5.69" lengthAdjust="spacingAndGlyphs">f</text><text x="355.82" y="97" textLength="11.28" lengthAdjust="spacingAndGlyphs">C</text><text x="372.21" y="97" textLength="6.34" lengthAdjust="spacingAndGlyphs">t</text><text x="378.54" y="97" textLength="9.95" lengthAdjust="spacingAndGlyphs">e</text><text x="388.48" y="97" textLength="15.73" lengthAdjust="spacingAndGlyphs">m</text><text x="404.20" y="97" textLength="10.27" lengthAdjust="spacingAndGlyphs">p</text><text x="414.45" y="97" textLength="8.42" lengthAdjust="spacingAndGlyphs">s</text><text x="422.85" y="97" textLength="6.31" lengthAdjust="spacingAndGlyphs">)</text><text x="434.29" y="97" textLength="10.11" lengthAdjust="spacingAndGlyphs">A</text><text x="444.38" y="97" textLength="9.56" lengthAdjust="spacingAndGlyphs">v</text><text x="453.93" y="97" textLength="10.27" lengthAdjust="spacingAndGlyphs">g</text><text x="469.31" y="97" textLength="10.28" lengthAdjust="spacingAndGlyphs">2</text><text x="479.57" y="97" textLength="10.30" lengthAdjust="spacingAndGlyphs">5</text><text x="489.85" y="97" textLength="5.14" lengthAdjust="spacingAndGlyphs">.</text><text x="494.98" y="97" textLength="10.28" lengthAdjust="spacingAndGlyphs">2</text><text x="505.24" y="97" textLength="10.28" lengthAdjust="spacingAndGlyphs">4</text><text x="107.60" y="115" textLength="12.72" lengthAdjust="spacingAndGlyphs">O</text><text x="120.30" y="115" textLength="11.83" lengthAdjust="spacingAndGlyphs">U</text><text x="132.12" y="115" textLength="9.88" lengthAdjust="spacingAndGlyphs">T</text><text x="141.97" y="115" textLength="10.25" lengthAdjust="spacingAndGlyphs">S</text><text x="152.21" y="115" textLength="4.78" lengthAdjust="spacingAndGlyphs">I</text><text x="156.97" y="115" textLength="12.44" lengthAdjust="spacingAndGlyphs">D</text><text x="169.40" y="115" textLength="10.22" lengthAdjust="spacingAndGlyphs">E</text><text x="184.74" y="115" textLength="10.28" lengthAdjust="spacingAndGlyphs">3</text><text x="195.01" y="115" textLength="10.28" lengthAdjust="spacingAndGlyphs">7</text><text x="205.27" y="115" textLength="10.28" lengthAdjust="spacingAndGlyphs">2</text><text x="215.54" y="115" textLength="10.28" lengthAdjust="spacingAndGlyphs">9</text><text x="225.80" y="115" textLength="10.30" lengthAdjust="spacingAndGlyphs">2</text><text x="241.21" y="115" textLength="12.44" lengthAdjust="spacingAndGlyphs">D</text><text x="253.63" y="115" textLength="9.95" lengthAdjust="spacingAndGlyphs">e</text><text x="263.57" y="115" textLength="10.27" lengthAdjust="spacingAndGlyphs">g</text><text x="273.82" y="115" textLength="13.94" lengthAdjust="spacingAndGlyphs">M</text><text x="287.74" y="115" textLength="4.50" lengthAdjust="spacingAndGlyphs">i</text><text x="292.22" y="115" textLength="10.25" lengthAdjust="spacingAndGlyphs">n</text><text x="307.58" y="115" textLength="6.31" lengthAdjust="spacingAndGlyphs">(</text><text x="313.88" y="115" textLength="8.42" lengthAdjust="spacingAndGlyphs">s</text><text x="322.29" y="115" textLength="10.25" lengthAdjust="spacingAndGlyphs">u</text><text x="332.52" y="115" textLength="15.73" lengthAdjust="spacingAndGlyphs">m</text><text x="353.38" y="115" textLength="9.89" lengthAdjust="spacingAndGlyphs">o</text><text x="363.26" y="115" textLength="5.69" lengthAdjust="spacingAndGlyphs">f</text><text x="374.07" y="115" textLength="11.28" lengthAdjust="spacingAndGlyphs">C</text><text x="390.46" y="115" textLength="6.34" lengthAdjust="spacingAndGlyphs">t</text><text x="396.79" y="115" textLength="9.95" lengthAdjust="spacingAndGlyphs">e</text><text x="406.72" y="115" textLength="15.73" lengthAdjust="spacingAndGlyphs">m</text><text x="422.44" y="115" textLength="10.27" lengthAdjust="spacingAndGlyphs">p</text><text x="432.69" y="115" textLength="8.42" lengthAdjust="spacingAndGlyphs">s</text><text x="441.10" y="115" textLength="6.31" lengthAdjust="spacingAndGlyphs">)</text><text x="452.52" y="115" textLength="10.11" lengthAdjust="spacingAndGlyphs">A</text><text x="462.62" y="115" textLength="9.58" lengthAdjust="spacingAndGlyphs">v</text><text x="472.18" y="115" textLength="10.25" lengthAdjust="spacingAndGlyphs">g</text><text x="487.55" y="115" textLength="10.28" lengthAdjust="spacingAndGlyphs">2</text><text x="497.82" y="115" textLength="10.28" lengthAdjust="spacingAndGlyphs">5</text><text x="508.08" y="115" textLength="5.16" lengthAdjust="spacingAndGlyphs">.</text><text x="513.22" y="115" textLength="10.28" lengthAdjust="spacingAndGlyphs">8</text><text x="523.49" y="115" textLength="10.28" lengthAdjust="spacingAndGlyphs">9</text><text x="107.30" y="133" textLength="9.73" lengthAdjust="spacingAndGlyphs">P</text><text x="117.02" y="133" textLength="12.73" lengthAdjust="spacingAndGlyphs">O</text><text x="129.74" y="133" textLength="12.72" lengthAdjust="spacingAndGlyphs">O</text><text x="142.44" y="133" textLength="9.00" lengthAdjust="spacingAndGlyphs">L</text><text x="156.55" y="133" textLength="7.14" lengthAdjust="spacingAndGlyphs">T</text><text x="163.68" y="133" textLength="9.94" lengthAdjust="spacingAndGlyphs">e</text><text x="173.60" y="133" textLength="15.75" lengthAdjust="spacingAndGlyphs">m</text><text x="189.33" y="133" textLength="10.25" lengthAdjust="spacingAndGlyphs">p</text><text x="541.35" y="95" textLength="7.44" lengthAdjust="spacingAndGlyphs">&quot;</text><text x="548.77" y="95" textLength="5.45" lengthAdjust="spacingAndGlyphs">/</text><text x="554.21" y="95" textLength="10.23" lengthAdjust="spacingAndGlyphs">h</text><text x="564.43" y="95" textLength="9.89" lengthAdjust="spacingAndGlyphs">o</text><text x="574.30" y="95" textLength="15.75" lengthAdjust="spacingAndGlyphs">m</text><text x="590.04" y="95" textLength="9.94" lengthAdjust="spacingAndGlyphs">e</text><text x="599.96" y="95" textLength="5.45" lengthAdjust="spacingAndGlyphs">/</text><text x="605.40" y="95" textLength="10.27" lengthAdjust="spacingAndGlyphs">p</text><text x="615.65" y="95" textLength="4.50" lengthAdjust="spacingAndGlyphs">i</text><text x="620.13" y="95" textLength="5.45" lengthAdjust="spacingAndGlyphs">/</text><text x="625.57" y="95" textLength="10.27" lengthAdjust="spacingAndGlyphs">p</text><text x="635.82" y="95" textLength="4.50" lengthAdjust="spacingAndGlyphs">i</text><text x="640.30" y="95" textLength="10.28" lengthAdjust="spacingAndGlyphs">1</text><text x="650.57" y="95" textLength="5.45" lengthAdjust="spacingAndGlyphs">/</text><text x="656.01" y="95" textLength="9.30" lengthAdjust="spacingAndGlyphs">F</text><text x="665.29" y="95" textLength="6.34" lengthAdjust="spacingAndGlyphs">t</text><text x="671.62" y="95" textLength="9.95" lengthAdjust="spacingAndGlyphs">e</text><text x="681.55" y="95" textLength="15.73" lengthAdjust="spacingAndGlyphs">m</text><text x="697.27" y="95" textLength="10.27" lengthAdjust="spacingAndGlyphs">p</text><text x="707.52" y="95" textLength="9.94" lengthAdjust="spacingAndGlyphs">e</text><text x="717.44" y="95" textLength="6.66" lengthAdjust="spacingAndGlyphs">r</text><text x="724.08" y="95" textLength="9.91" lengthAdjust="spacingAndGlyphs">a</text><text x="733.98" y="95" textLength="6.34" lengthAdjust="spacingAndGlyphs">t</text><text x="740.30" y="95" textLength="10.25" lengthAdjust="spacingAndGlyphs">u</text><text x="750.54" y="95" textLength="6.30" lengthAdjust="spacingAndGlyphs">r</text><text x="756.82" y="95" textLength="9.94" lengthAdjust="spacingAndGlyphs">e</text><text x="766.74" y="95" textLength="8.42" lengthAdjust="spacingAndGlyphs">s</text><text x="775.15" y="95" textLength="10.30" lengthAdjust="spacingAndGlyphs">1</text><text x="785.43" y="95" textLength="5.14" lengthAdjust="spacingAndGlyphs">.</text><text x="790.55" y="95" textLength="6.34" lengthAdjust="spacingAndGlyphs">t</text><text x="796.88" y="95" textLength="9.56" lengthAdjust="spacingAndGlyphs">x</text><text x="806.43" y="95" textLength="6.34" lengthAdjust="spacingAndGlyphs">t</text><text x="812.76" y="95" textLength="7.44" lengthAdjust="spacingAndGlyphs">&quot;</text><text x="825.32" y="95" textLength="10.25" lengthAdjust="spacingAndGlyphs">u</text><text x="835.55" y="95" textLength="8.42" lengthAdjust="spacingAndGlyphs">s</text><text x="843.96" y="95" textLength="4.50" lengthAdjust="spacingAndGlyphs">i</text><text x="848.44" y="95" textLength="10.23" lengthAdjust="spacingAndGlyphs">n</text><text x="858.66" y="95" textLength="10.27" lengthAdjust="spacingAndGlyphs">g</text><text x="874.05" y="95" textLength="10.28" lengthAdjust="spacingAndGlyphs">1</text><text x="884.32" y="95" textLength="5.45" lengthAdjust="spacingAndGlyphs">:</text><text x="889.76" y="95" textLength="10.28" lengthAdjust="spacingAndGlyphs">2</text><text x="531.55" y="114" textLength="7.44" lengthAdjust="spacingAndGlyphs">&quot;</text><text x="538.97" y="114" textLength="5.45" lengthAdjust="spacingAndGlyphs">/</text><text x="544.41" y="114" textLength="10.23" lengthAdjust="spacingAndGlyphs">h</text><text x="554.63" y="114" textLength="9.89" lengthAdjust="spacingAndGlyphs">o</text><text x="564.50" y="114" textLength="15.75" lengthAdjust="spacingAndGlyphs">m</text><text x="580.24" y="114" textLength="9.94" lengthAdjust="spacingAndGlyphs">e</text><text x="590.16" y="114" textLength="5.45" lengthAdjust="spacingAndGlyphs">/</text><text x="595.60" y="114" textLength="10.27" lengthAdjust="spacingAndGlyphs">p</text><text x="605.85" y="114" textLength="4.50" lengthAdjust="spacingAndGlyphs">i</text><text x="610.33" y="114" textLength="5.45" lengthAdjust="spacingAndGlyphs">/</text><text x="615.77" y="114" textLength="10.27" lengthAdjust="spacingAndGlyphs">p</text><text x="626.02" y="114" textLength="4.50" lengthAdjust="spacingAndGlyphs">i</text><text x="630.50" y="114" textLength="10.28" lengthAdjust="spacingAndGlyphs">2</text><text x="640.77" y="114" textLength="10.28" lengthAdjust="spacingAndGlyphs">0</text><text x="651.03" y="114" textLength="5.45" lengthAdjust="spacingAndGlyphs">/</text><text x="656.47" y="114" textLength="9.30" lengthAdjust="spacingAndGlyphs">F</text><text x="665.75" y="114" textLength="6.34" lengthAdjust="spacingAndGlyphs">t</text><text x="672.08" y="114" textLength="9.95" lengthAdjust="spacingAndGlyphs">e</text><text x="682.02" y="114" textLength="15.73" lengthAdjust="spacingAndGlyphs">m</text><text x="697.74" y="114" textLength="10.27" lengthAdjust="spacingAndGlyphs">p</text><text x="707.99" y="114" textLength="9.94" lengthAdjust="spacingAndGlyphs">e</text><text x="717.91" y="114" textLength="6.66" lengthAdjust="spacingAndGlyphs">r</text><text x="724.55" y="114" textLength="9.91" lengthAdjust="spacingAndGlyphs">a</text><text x="734.44" y="114" textLength="6.34" lengthAdjust="spacingAndGlyphs">t</text><text x="740.77" y="114" textLength="10.25" lengthAdjust="spacingAndGlyphs">u</text><text x="751.00" y="114" textLength="6.30" lengthAdjust="spacingAndGlyphs">r</text><text x="757.28" y="114" textLength="9.94" lengthAdjust="spacingAndGlyphs">e</text><text x="767.21" y="114" textLength="8.44" lengthAdjust="spacingAndGlyphs">s</text><text x="775.63" y="114" textLength="10.28" lengthAdjust="spacingAndGlyphs">1</text><text x="785.89" y="114" textLength="5.14" lengthAdjust="spacingAndGlyphs">.</text><text x="791.02" y="114" textLength="6.34" lengthAdjust="spacingAndGlyphs">t</text><text x="797.35" y="114" textLength="9.58" lengthAdjust="spacingAndGlyphs">x</text><text x="806.91" y="114" textLength="6.34" lengthAdjust="spacingAndGlyphs">t</text><text x="813.24" y="114" textLength="7.44" lengthAdjust="spacingAndGlyphs">&quot;</text><text x="825.78" y="114" textLength="10.25" lengthAdjust="spacingAndGlyphs">u</text><text x="836.02" y="114" textLength="8.42" lengthAdjust="spacingAndGlyphs">s</text><text x="844.42" y="114" textLength="4.50" lengthAdjust="spacingAndGlyphs">i</text><text x="848.91" y="114" textLength="10.25" lengthAdjust="spacingAndGlyphs">n</text><text x="859.14" y="114" textLength="10.25" lengthAdjust="spacingAndGlyphs">g</text><text x="874.52" y="114" textLength="10.28" lengthAdjust="spacingAndGlyphs">1</text><text x="884.78" y="114" textLength="5.45" lengthAdjust="spacingAndGlyphs">:</text><text x="890.22" y="114" textLength="10.28" lengthAdjust="spacingAndGlyphs">2</text><text x="531.55" y="133" textLength="7.44" lengthAdjust="spacingAndGlyphs">&quot;</text><text x="538.97" y="133" textLength="5.45" lengthAdjust="spacingAndGlyphs">/</text><text x="544.41" y="133" textLength="10.23" lengthAdjust="spacingAndGlyphs">h</text><text x="554.63" y="133" textLength="9.89" lengthAdjust="spacingAndGlyphs">o</text><text x="564.50" y="133" textLength="15.75" lengthAdjust="spacingAndGlyphs">m</text><text x="580.24" y="133" textLength="9.94" lengthAdjust="spacingAndGlyphs">e</text><text x="590.16" y="133" textLength="5.45" lengthAdjust="spacingAndGlyphs">/</text><text x="595.60" y="133" textLength="10.27" lengthAdjust="spacingAndGlyphs">p</text><text x="605.85" y="133" textLength="4.50" lengthAdjust="spacingAndGlyphs">i</text><text x="610.33" y="133" textLength="5.45" lengthAdjust="spacingAndGlyphs">/</text><text x="615.77" y="133" textLength="10.27" lengthAdjust="spacingAndGlyphs">p</text><text x="626.02" y="133" textLength="4.50" lengthAdjust="spacingAndGlyphs">i</text><text x="630.50" y="133" textLength="10.28" lengthAdjust="spacingAndGlyphs">1</text><text x="640.77" y="133" textLength="10.28" lengthAdjust="spacingAndGlyphs">0</text><text x="651.03" y="133" textLength="5.45" lengthAdjust="spacingAndGlyphs">/</text><text x="656.47" y="133" textLength="9.30" lengthAdjust="spacingAndGlyphs">F</text><text x="665.75" y="133" textLength="6.34" lengthAdjust="spacingAndGlyphs">t</text><text x="672.08" y="133" textLength="9.95" lengthAdjust="spacingAndGlyphs">e</text><text x="682.02" y="133" textLength="15.73" lengthAdjust="spacingAndGlyphs">m</text><text x="697.74" y="133" textLength="10.27" lengthAdjust="spacingAndGlyphs">p</text><text x="707.99" y="133" textLength="9.94" lengthAdjust="spacingAndGlyphs">e</text><text x="717.91" y="133" textLength="6.66" lengthAdjust="spacingAndGlyphs">r</text><text x="724.55" y="133" textLength="9.91" lengthAdjust="spacingAndGlyphs">a</text><text x="734.44" y="133" textLength="6.34" lengthAdjust="spacingAndGlyphs">t</text><text x="740.77" y="133" textLength="10.25" lengthAdjust="spacingAndGlyphs">u</text><text x="751.00" y="133" textLength="6.30" lengthAdjust="spacingAndGlyphs">r</text><text x="757.28" y="133" textLength="9.94" lengthAdjust="spacingAndGlyphs">e</text><text x="767.21" y="133" textLength="8.44" lengthAdjust="spacingAndGlyphs">s</text><text x="775.63" y="133" textLength="10.28" lengthAdjust="spacingAndGlyphs">1</text><text x="785.89" y="133" textLength="5.14" lengthAdjust="spacingAndGlyphs">.</text><text x="791.02" y="133" textLength="6.34" lengthAdjust="spacingAndGlyphs">t</text><text x="797.35" y="133" textLength="9.58" lengthAdjust="spacingAndGlyphs">x</text><text x="806.91" y="133" textLength="6.34" lengthAdjust="spacingAndGlyphs">t</text><text x="813.24" y="133" textLength="7.44" lengthAdjust="spacingAndGlyphs">&quot;</text><text x="825.78" y="133" textLength="10.25" lengthAdjust="spacingAndGlyphs">u</text><text x="836.02" y="133" textLength="8.42" lengthAdjust="spacingAndGlyphs">s</text><text x="844.42" y="133" textLength="4.50" lengthAdjust="spacingAndGlyphs">i</text><text x="848.91" y="133" textLength="10.25" lengthAdjust="spacingAndGlyphs">n</text><text x="859.14" y="133" textLength="10.25" lengthAdjust="spacingAndGlyphs">g</text><text x="874.52" y="133" textLength="10.28" lengthAdjust="spacingAndGlyphs">1</text><text x="884.78" y="133" textLength="5.45" lengthAdjust="spacingAndGlyphs">:</text><text x="890.22" y="133" textLength="10.28" lengthAdjust="spacingAndGlyphs">2</text><text x="107.45" y="178" textLength="12.72" lengthAdjust="spacingAndGlyphs">O</text><text x="120.15" y="178" textLength="11.83" lengthAdjust="spacingAndGlyphs">U</text><text x="131.97" y="178" textLength="9.88" lengthAdjust="spacingAndGlyphs">T</text><text x="141.82" y="178" textLength="10.25" lengthAdjust="spacingAndGlyphs">S</text><text x="152.06" y="178" textLength="4.78" lengthAdjust="spacingAndGlyphs">I</text><text x="156.82" y="178" textLength="12.44" lengthAdjust="spacingAndGlyphs">D</text><text x="169.25" y="178" textLength="10.22" lengthAdjust="spacingAndGlyphs">E</text><text x="179.45" y="178" textLength="5.45" lengthAdjust="spacingAndGlyphs">/</text><text x="184.89" y="178" textLength="4.78" lengthAdjust="spacingAndGlyphs">I</text><text x="189.65" y="178" textLength="12.09" lengthAdjust="spacingAndGlyphs">N</text><text x="201.73" y="178" textLength="10.25" lengthAdjust="spacingAndGlyphs">S</text><text x="211.97" y="178" textLength="4.78" lengthAdjust="spacingAndGlyphs">I</text><text x="216.73" y="178" textLength="12.44" lengthAdjust="spacingAndGlyphs">D</text><text x="229.15" y="178" textLength="10.22" lengthAdjust="spacingAndGlyphs">E</text><text x="244.48" y="178" textLength="10.88" lengthAdjust="spacingAndGlyphs">R</text><text x="255.34" y="178" textLength="9.91" lengthAdjust="spacingAndGlyphs">a</text><text x="265.23" y="178" textLength="6.36" lengthAdjust="spacingAndGlyphs">t</text><text x="271.57" y="178" textLength="4.50" lengthAdjust="spacingAndGlyphs">i</text><text x="276.06" y="178" textLength="9.89" lengthAdjust="spacingAndGlyphs">o</text><text x="291.06" y="178" textLength="10.28" lengthAdjust="spacingAndGlyphs">1</text><text x="301.32" y="178" textLength="5.14" lengthAdjust="spacingAndGlyphs">.</text><text x="306.45" y="178" textLength="10.30" lengthAdjust="spacingAndGlyphs">0</text><text x="316.73" y="178" textLength="10.28" lengthAdjust="spacingAndGlyphs">2</text><text x="327.00" y="178" textLength="10.28" lengthAdjust="spacingAndGlyphs">5</text><text x="337.26" y="178" textLength="10.28" lengthAdjust="spacingAndGlyphs">9</text><text x="180.70" y="303" textLength="9.86" lengthAdjust="spacingAndGlyphs">T</text><text x="190.54" y="303" textLength="10.25" lengthAdjust="spacingAndGlyphs">h</text><text x="200.78" y="303" textLength="9.95" lengthAdjust="spacingAndGlyphs">e</text><text x="210.72" y="303" textLength="6.36" lengthAdjust="spacingAndGlyphs">r</text><text x="217.06" y="303" textLength="15.75" lengthAdjust="spacingAndGlyphs">m</text><text x="232.79" y="303" textLength="9.89" lengthAdjust="spacingAndGlyphs">o</text><text x="242.67" y="303" textLength="8.42" lengthAdjust="spacingAndGlyphs">s</text><text x="251.08" y="303" textLength="6.34" lengthAdjust="spacingAndGlyphs">t</text><text x="257.40" y="303" textLength="9.91" lengthAdjust="spacingAndGlyphs">a</text><text x="267.29" y="303" textLength="6.34" lengthAdjust="spacingAndGlyphs">t</text><text x="278.75" y="303" textLength="10.27" lengthAdjust="spacingAndGlyphs">S</text><text x="289.00" y="303" textLength="9.94" lengthAdjust="spacingAndGlyphs">e</text><text x="298.92" y="303" textLength="6.34" lengthAdjust="spacingAndGlyphs">t</text><text x="305.25" y="303" textLength="6.34" lengthAdjust="spacingAndGlyphs">t</text><text x="311.58" y="303" textLength="4.50" lengthAdjust="spacingAndGlyphs">i</text><text x="316.06" y="303" textLength="10.25" lengthAdjust="spacingAndGlyphs">n</text><text x="326.29" y="303" textLength="10.27" lengthAdjust="spacingAndGlyphs">g</text><text x="336.54" y="303" textLength="8.42" lengthAdjust="spacingAndGlyphs">s</text><text x="179.55" y="325" textLength="13.20" lengthAdjust="spacingAndGlyphs">w</text><text x="192.74" y="325" textLength="4.50" lengthAdjust="spacingAndGlyphs">i</text><text x="197.22" y="325" textLength="10.25" lengthAdjust="spacingAndGlyphs">n</text><text x="207.46" y="325" textLength="6.34" lengthAdjust="spacingAndGlyphs">t</text><text x="213.78" y="325" textLength="9.95" lengthAdjust="spacingAndGlyphs">e</text><text x="223.72" y="325" textLength="6.64" lengthAdjust="spacingAndGlyphs">r</text><text x="230.35" y="325" textLength="12.09" lengthAdjust="spacingAndGlyphs">N</text><text x="242.43" y="325" textLength="9.89" lengthAdjust="spacingAndGlyphs">o</text><text x="252.30" y="325" textLength="9.56" lengthAdjust="spacingAndGlyphs">v</text><text x="261.85" y="325" textLength="10.30" lengthAdjust="spacingAndGlyphs">1</text><text x="179.20" y="348" textLength="8.42" lengthAdjust="spacingAndGlyphs">s</text><text x="187.61" y="348" textLength="10.23" lengthAdjust="spacingAndGlyphs">u</text><text x="197.83" y="348" textLength="15.75" lengthAdjust="spacingAndGlyphs">m</text><text x="213.56" y="348" textLength="15.73" lengthAdjust="spacingAndGlyphs">m</text><text x="229.28" y="348" textLength="9.94" lengthAdjust="spacingAndGlyphs">e</text><text x="239.20" y="348" textLength="6.66" lengthAdjust="spacingAndGlyphs">r</text><text x="245.84" y="348" textLength="13.94" lengthAdjust="spacingAndGlyphs">M</text><text x="259.76" y="348" textLength="9.91" lengthAdjust="spacingAndGlyphs">a</text><text x="269.65" y="348" textLength="9.58" lengthAdjust="spacingAndGlyphs">y</text><text x="279.22" y="348" textLength="10.28" lengthAdjust="spacingAndGlyphs">1</text><text x="313.80" y="325" textLength="10.28" lengthAdjust="spacingAndGlyphs">6</text><text x="324.07" y="325" textLength="11.05" lengthAdjust="spacingAndGlyphs">A</text><text x="335.10" y="325" textLength="13.95" lengthAdjust="spacingAndGlyphs">M</text><text x="354.16" y="325" textLength="10.28" lengthAdjust="spacingAndGlyphs">7</text><text x="364.43" y="325" textLength="10.28" lengthAdjust="spacingAndGlyphs">2</text><text x="313.30" y="348" textLength="10.28" lengthAdjust="spacingAndGlyphs">6</text><text x="323.57" y="348" textLength="11.05" lengthAdjust="spacingAndGlyphs">A</text><text x="334.60" y="348" textLength="13.95" lengthAdjust="spacingAndGlyphs">M</text><text x="353.66" y="348" textLength="10.28" lengthAdjust="spacingAndGlyphs">8</text><text x="363.93" y="348" textLength="10.28" lengthAdjust="spacingAndGlyphs">0</text><text x="537.15" y="325" textLength="10.28" lengthAdjust="spacingAndGlyphs">1</text><text x="547.42" y="325" textLength="10.28" lengthAdjust="spacingAndGlyphs">2</text><text x="557.68" y="325" textLength="9.75" lengthAdjust="spacingAndGlyphs">P</text><text x="567.42" y="325" textLength="13.94" lengthAdjust="spacingAndGlyphs">M</text><text x="586.48" y="325" textLength="10.28" lengthAdjust="spacingAndGlyphs">7</text><text x="596.74" y="325" textLength="10.28" lengthAdjust="spacingAndGlyphs">4</text><text x="537.65" y="348" textLength="10.28" lengthAdjust="spacingAndGlyphs">1</text><text x="547.92" y="348" textLength="10.28" lengthAdjust="spacingAndGlyphs">2</text><text x="558.18" y="348" textLength="9.75" lengthAdjust="spacingAndGlyphs">P</text><text x="567.92" y="348" textLength="13.94" lengthAdjust="spacingAndGlyphs">M</text><text x="586.98" y="348" textLength="10.28" lengthAdjust="spacingAndGlyphs">8</text><text x="597.24" y="348" textLength="10.28" lengthAdjust="spacingAndGlyphs">2</text><text x="760.95" y="325" textLength="10.28" lengthAdjust="spacingAndGlyphs">6</text><text x="771.22" y="325" textLength="9.75" lengthAdjust="spacingAndGlyphs">P</text><text x="780.95" y="325" textLength="13.94" lengthAdjust="spacingAndGlyphs">M</text><text x="800.00" y="325" textLength="10.30" lengthAdjust="spacingAndGlyphs">7</text><text x="810.28" y="325" textLength="10.28" lengthAdjust="spacingAndGlyphs">6</text><text x="761.45" y="348" textLength="10.28" lengthAdjust="spacingAndGlyphs">6</text><text x="771.72" y="348" textLength="9.75" lengthAdjust="spacingAndGlyphs">P</text><text x="781.45" y="348" textLength="13.94" lengthAdjust="spacingAndGlyphs">M</text><text x="800.50" y="348" textLength="10.30" lengthAdjust="spacingAndGlyphs">8</text><text x="810.78" y="348" textLength="10.28" lengthAdjust="spacingAndGlyphs">1</text><text x="913.45" y="325" textLength="10.28" lengthAdjust="spacingAndGlyphs">1</text><text x="923.72" y="325" textLength="10.28" lengthAdjust="spacingAndGlyphs">0</text><text x="933.98" y="325" textLength="9.75" lengthAdjust="spacingAndGlyphs">P</text><text x="943.72" y="325" textLength="13.94" lengthAdjust="spacingAndGlyphs">M</text><text x="962.78" y="325" textLength="10.28" lengthAdjust="spacingAndGlyphs">6</text><text x="973.04" y="325" textLength="10.28" lengthAdjust="spacingAndGlyphs">8</text><text x="913.45" y="348" textLength="10.28" lengthAdjust="spacingAndGlyphs">1</text><text x="923.72" y="348" textLength="10.28" lengthAdjust="spacingAndGlyphs">0</text><text x="933.98" y="348" textLength="9.75" lengthAdjust="spacingAndGlyphs">P</text><text x="943.72" y="348" textLength="13.94" lengthAdjust="spacingAndGlyphs">M</text><text x="962.78" y="348" textLength="10.28" lengthAdjust="spacingAndGlyphs">8</text><text x="973.04" y="348" textLength="10.28" lengthAdjust="spacingAndGlyphs">0</text><text x="139.70" y="546" textLength="10.28" lengthAdjust="spacingAndGlyphs">0</text><text x="149.97" y="546" textLength="10.28" lengthAdjust="spacingAndGlyphs">2</text><text x="160.23" y="546" textLength="5.45" lengthAdjust="spacingAndGlyphs">:</text><text x="165.67" y="546" textLength="10.28" lengthAdjust="spacingAndGlyphs">0</text><text x="175.93" y="546" textLength="10.28" lengthAdjust="spacingAndGlyphs">0</text><text x="214.50" y="546" textLength="10.28" lengthAdjust="spacingAndGlyphs">0</text><text x="224.77" y="546" textLength="10.28" lengthAdjust="spacingAndGlyphs">4</text><text x="235.03" y="546" textLength="5.45" lengthAdjust="spacingAndGlyphs">:</text><text x="240.47" y="546" textLength="10.28" lengthAdjust="spacingAndGlyphs">0</text><text x="250.73" y="546" textLength="10.28" lengthAdjust="spacingAndGlyphs">0</text><text x="289.30" y="546" textLength="10.28" lengthAdjust="spacingAndGlyphs">0</text><text x="299.57" y="546" textLength="10.28" lengthAdjust="spacingAndGlyphs">6</text><text x="309.83" y="546" textLength="5.45" lengthAdjust="spacingAndGlyphs">:</text><text x="315.27" y="546" textLength="10.28" lengthAdjust="spacingAndGlyphs">0</text><text x="325.53" y="546" textLength="10.28" lengthAdjust="spacingAndGlyphs">0</text><text x="364.10" y="546" textLength="10.28" lengthAdjust="spacingAndGlyphs">0</text><text x="374.37" y="546" textLength="10.28" lengthAdjust="spacingAndGlyphs">8</text><text x="384.63" y="546" textLength="5.45" lengthAdjust="spacingAndGlyphs">:</text><text x="390.07" y="546" textLength="10.28" lengthAdjust="spacingAndGlyphs">0</text><text x="400.33" y="546" textLength="10.28" lengthAdjust="spacingAndGlyphs">0</text><text x="438.40" y="546" textLength="10.28" lengthAdjust="spacingAndGlyphs">1</text><text x="448.67" y="546" textLength="10.28" lengthAdjust="spacingAndGlyphs">0</text><text x="458.93" y="546" textLength="5.45" lengthAdjust="spacingAndGlyphs">:</text><text x="464.37" y="546" textLength="10.28" lengthAdjust="spacingAndGlyphs">0</text><text x="474.63" y="546" textLength="10.28" lengthAdjust="spacingAndGlyphs">0</text><text x="513.20" y="546" textLength="10.28" lengthAdjust="spacingAndGlyphs">1</text><text x="523.47" y="546" textLength="10.28" lengthAdjust="spacingAndGlyphs">2</text><text x="533.73" y="546" textLength="5.45" lengthAdjust="spacingAndGlyphs">:</text><text x="539.17" y="546" textLength="10.28" lengthAdjust="spacingAndGlyphs">0</text><text x="549.43" y="546" textLength="10.28" lengthAdjust="spacingAndGlyphs">0</text><text x="588.00" y="546" textLength="10.28" lengthAdjust="spacingAndGlyphs">1</text><text x="598.27" y="546" textLength="10.28" lengthAdjust="spacingAndGlyphs">4</text><text x="608.53" y="546" textLength="5.45" lengthAdjust="spacingAndGlyphs">:</text><text x="613.97" y="546" textLength="10.28" lengthAdjust="spacingAndGlyphs">0</text><text x="624.23" y="546" textLength="10.28" lengthAdjust="spacingAndGlyphs">0</text><text x="662.80" y="546" textLength="10.28" lengthAdjust="spacingAndGlyphs">1</text><text x="673.07" y="546" textLength="10.28" lengthAdjust="spacingAndGlyphs">6</text><text x="683.33" y="546" textLength="5.45" lengthAdjust="spacingAndGlyphs">:</text><text x="688.77" y="546" textLength="10.28" lengthAdjust="spacingAndGlyphs">0</text><text x="699.03" y="546" textLength="10.28" lengthAdjust="spacingAndGlyphs">0</text><text x="737.60" y="546" textLength="10.28" lengthAdjust="spacingAndGlyphs">1</text><text x="747.87" y="546" textLength="10.28" lengthAdjust="spacingAndGlyphs">8</text><text x="758.13" y="546" textLength="5.45" lengthAdjust="spacingAndGlyphs">:</text><text x="763.57" y="546" textLength="10.28" lengthAdjust="spacingAndGlyphs">0</text><text x="773.83" y="546" textLength="10.28" lengthAdjust="spacingAndGlyphs">0</text><text x="812.90" y="546" textLength="10.28" lengthAdjust="spacingAndGlyphs">2</text><text x="823.17" y="546" textLength="10.28" lengthAdjust="spacingAndGlyphs">0</text><text x="833.43" y="546" textLength="5.45" lengthAdjust="spacingAndGlyphs">:</text><text x="838.87" y="546" textLength="10.28" lengthAdjust="spacingAndGlyphs">0</text><text x="849.13" y="546" textLength="10.28" lengthAdjust="spacingAndGlyphs">0</text><text x="887.70" y="546" textLength="10.28" lengthAdjust="spacingAndGlyphs">2</text><text x="897.97" y="546" textLength="10.28" lengthAdjust="spacingAndGlyphs">2</text><text x="908.23" y="546" textLength="5.45" lengthAdjust="spacingAndGlyphs">:</text><text x="913.67" y="546" textLength="10.28" lengthAdjust="spacingAndGlyphs">0</text><text x="923.93" y="546" textLength="10.28" lengthAdjust="spacingAndGlyphs">0</text></g><g transform="rotate(-90)" font-family="Liberation Sans, sans-serif" font-size="16.50" fill="#000" lengthAdjust="spacingAndGlyphs"><text x="-360.00" y="20" textLength="10.25" lengthAdjust="spacingAndGlyphs">d</text><text x="-349.77" y="20" textLength="9.95" lengthAdjust="spacingAndGlyphs">e</text><text x="-339.83" y="20" textLength="10.25" lengthAdjust="spacingAndGlyphs">g</text><text x="-324.45" y="20" textLength="7.81" lengthAdjust="spacingAndGlyphs">F</text><text x="-316.66" y="20" textLength="9.91" lengthAdjust="spacingAndGlyphs">a</text><text x="-306.77" y="20" textLength="10.25" lengthAdjust="spacingAndGlyphs">h</text><text x="-296.53" y="20" textLength="6.30" lengthAdjust="spacingAndGlyphs">r</text><text x="-290.25" y="20" textLength="9.94" lengthAdjust="spacingAndGlyphs">e</text><text x="-280.33" y="20" textLength="10.25" lengthAdjust="spacingAndGlyphs">n</text><text x="-270.09" y="20" textLength="10.25" lengthAdjust="spacingAndGlyphs">h</text><text x="-259.86" y="20" textLength="9.94" lengthAdjust="spacingAndGlyphs">e</text><text x="-249.94" y="20" textLength="4.50" lengthAdjust="spacingAndGlyphs">i</text><text x="-245.45" y="20" textLength="6.34" lengthAdjust="spacingAndGlyphs">t</text></g></svg></body></html>
